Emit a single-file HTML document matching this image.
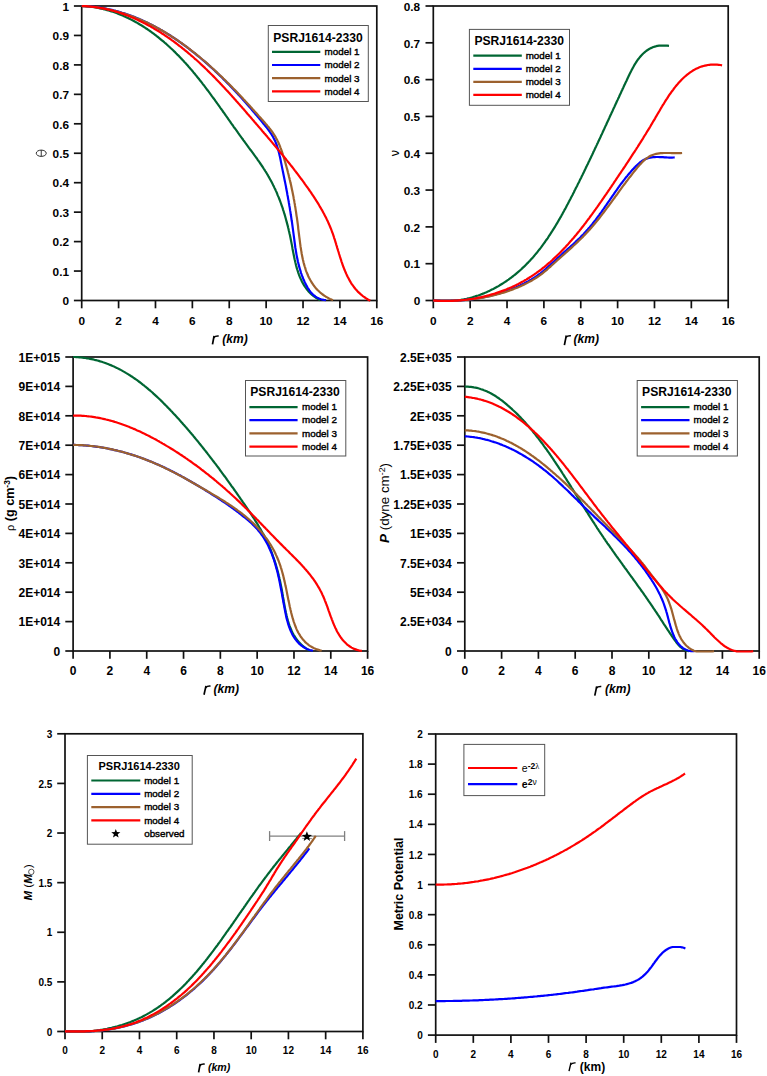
<!DOCTYPE html>
<html><head><meta charset="utf-8"><style>
html,body{margin:0;padding:0;background:#fff;}
body{width:767px;height:1076px;overflow:hidden;font-family:"Liberation Sans", sans-serif;}
svg{display:block;}
</style></head><body>
<svg width="767" height="1076" viewBox="0 0 767 1076" font-family='"Liberation Sans", sans-serif'>
<rect width="767" height="1076" fill="#fff"/>
<rect x="81.70" y="6.00" width="295.10" height="294.50" fill="none" stroke="#111111" stroke-width="1.70"/>
<line x1="81.70" y1="300.50" x2="81.70" y2="308.30" stroke="#111111" stroke-width="1.70"/>
<text x="81.70" y="325.00" font-size="11.80" text-anchor="middle" font-weight="bold" font-style="normal" fill="#000" >0</text>
<line x1="118.59" y1="300.50" x2="118.59" y2="308.30" stroke="#111111" stroke-width="1.70"/>
<text x="118.59" y="325.00" font-size="11.80" text-anchor="middle" font-weight="bold" font-style="normal" fill="#000" >2</text>
<line x1="155.48" y1="300.50" x2="155.48" y2="308.30" stroke="#111111" stroke-width="1.70"/>
<text x="155.48" y="325.00" font-size="11.80" text-anchor="middle" font-weight="bold" font-style="normal" fill="#000" >4</text>
<line x1="192.36" y1="300.50" x2="192.36" y2="308.30" stroke="#111111" stroke-width="1.70"/>
<text x="192.36" y="325.00" font-size="11.80" text-anchor="middle" font-weight="bold" font-style="normal" fill="#000" >6</text>
<line x1="229.25" y1="300.50" x2="229.25" y2="308.30" stroke="#111111" stroke-width="1.70"/>
<text x="229.25" y="325.00" font-size="11.80" text-anchor="middle" font-weight="bold" font-style="normal" fill="#000" >8</text>
<line x1="266.14" y1="300.50" x2="266.14" y2="308.30" stroke="#111111" stroke-width="1.70"/>
<text x="266.14" y="325.00" font-size="11.80" text-anchor="middle" font-weight="bold" font-style="normal" fill="#000" >10</text>
<line x1="303.03" y1="300.50" x2="303.03" y2="308.30" stroke="#111111" stroke-width="1.70"/>
<text x="303.03" y="325.00" font-size="11.80" text-anchor="middle" font-weight="bold" font-style="normal" fill="#000" >12</text>
<line x1="339.91" y1="300.50" x2="339.91" y2="308.30" stroke="#111111" stroke-width="1.70"/>
<text x="339.91" y="325.00" font-size="11.80" text-anchor="middle" font-weight="bold" font-style="normal" fill="#000" >14</text>
<line x1="376.80" y1="300.50" x2="376.80" y2="308.30" stroke="#111111" stroke-width="1.70"/>
<text x="376.80" y="325.00" font-size="11.80" text-anchor="middle" font-weight="bold" font-style="normal" fill="#000" >16</text>
<line x1="73.90" y1="300.50" x2="81.70" y2="300.50" stroke="#111111" stroke-width="1.70"/>
<text x="69.00" y="305.27" font-size="11.80" text-anchor="end" font-weight="bold" font-style="normal" fill="#000" >0</text>
<line x1="73.90" y1="271.05" x2="81.70" y2="271.05" stroke="#111111" stroke-width="1.70"/>
<text x="69.00" y="275.82" font-size="11.80" text-anchor="end" font-weight="bold" font-style="normal" fill="#000" >0.1</text>
<line x1="73.90" y1="241.60" x2="81.70" y2="241.60" stroke="#111111" stroke-width="1.70"/>
<text x="69.00" y="246.37" font-size="11.80" text-anchor="end" font-weight="bold" font-style="normal" fill="#000" >0.2</text>
<line x1="73.90" y1="212.15" x2="81.70" y2="212.15" stroke="#111111" stroke-width="1.70"/>
<text x="69.00" y="216.92" font-size="11.80" text-anchor="end" font-weight="bold" font-style="normal" fill="#000" >0.3</text>
<line x1="73.90" y1="182.70" x2="81.70" y2="182.70" stroke="#111111" stroke-width="1.70"/>
<text x="69.00" y="187.47" font-size="11.80" text-anchor="end" font-weight="bold" font-style="normal" fill="#000" >0.4</text>
<line x1="73.90" y1="153.25" x2="81.70" y2="153.25" stroke="#111111" stroke-width="1.70"/>
<text x="69.00" y="158.02" font-size="11.80" text-anchor="end" font-weight="bold" font-style="normal" fill="#000" >0.5</text>
<line x1="73.90" y1="123.80" x2="81.70" y2="123.80" stroke="#111111" stroke-width="1.70"/>
<text x="69.00" y="128.57" font-size="11.80" text-anchor="end" font-weight="bold" font-style="normal" fill="#000" >0.6</text>
<line x1="73.90" y1="94.35" x2="81.70" y2="94.35" stroke="#111111" stroke-width="1.70"/>
<text x="69.00" y="99.12" font-size="11.80" text-anchor="end" font-weight="bold" font-style="normal" fill="#000" >0.7</text>
<line x1="73.90" y1="64.90" x2="81.70" y2="64.90" stroke="#111111" stroke-width="1.70"/>
<text x="69.00" y="69.67" font-size="11.80" text-anchor="end" font-weight="bold" font-style="normal" fill="#000" >0.8</text>
<line x1="73.90" y1="35.45" x2="81.70" y2="35.45" stroke="#111111" stroke-width="1.70"/>
<text x="69.00" y="40.22" font-size="11.80" text-anchor="end" font-weight="bold" font-style="normal" fill="#000" >0.9</text>
<line x1="73.90" y1="6.00" x2="81.70" y2="6.00" stroke="#111111" stroke-width="1.70"/>
<text x="69.00" y="10.77" font-size="11.80" text-anchor="end" font-weight="bold" font-style="normal" fill="#000" >1</text>
<rect x="268.30" y="25.50" width="100.00" height="76.00" fill="#fff" stroke="#555" stroke-width="1"/>
<text x="318.00" y="41.60" font-size="12.10" text-anchor="middle" font-weight="bold" font-style="normal" fill="#000" >PSRJ1614-2330</text>
<line x1="272.00" y1="51.80" x2="320.30" y2="51.80" stroke="#006633" stroke-width="2.2"/>
<text x="324.60" y="55.18" font-size="9.82" text-anchor="start" font-weight="normal" font-style="normal" fill="#000" stroke="#000" stroke-width="0.4">model 1</text>
<line x1="272.00" y1="65.00" x2="320.30" y2="65.00" stroke="#0000ff" stroke-width="2.2"/>
<text x="324.60" y="68.38" font-size="9.82" text-anchor="start" font-weight="normal" font-style="normal" fill="#000" stroke="#000" stroke-width="0.4">model 2</text>
<line x1="272.00" y1="78.20" x2="320.30" y2="78.20" stroke="#9c612e" stroke-width="2.2"/>
<text x="324.60" y="81.58" font-size="9.82" text-anchor="start" font-weight="normal" font-style="normal" fill="#000" stroke="#000" stroke-width="0.4">model 3</text>
<line x1="272.00" y1="91.30" x2="320.30" y2="91.30" stroke="#ff0000" stroke-width="2.2"/>
<text x="324.60" y="94.68" font-size="9.82" text-anchor="start" font-weight="normal" font-style="normal" fill="#000" stroke="#000" stroke-width="0.4">model 4</text>
<path d="M81.7,6.0 L83.2,6.1 L84.8,6.2 L86.3,6.3 L87.8,6.4 L89.4,6.6 L90.9,6.8 L92.4,7.0 L93.9,7.2 L95.4,7.4 L96.9,7.7 L98.4,8.0 L99.8,8.3 L101.3,8.6 L102.8,9.0 L104.2,9.3 L105.7,9.7 L107.1,10.1 L108.6,10.5 L110.0,10.9 L111.4,11.4 L112.9,11.8 L114.3,12.3 L115.7,12.8 L117.1,13.3 L118.5,13.9 L119.9,14.4 L121.2,15.0 L122.6,15.6 L124.0,16.2 L125.3,16.8 L126.7,17.4 L128.0,18.0 L129.4,18.7 L130.7,19.4 L132.0,20.1 L133.4,20.8 L134.7,21.5 L136.0,22.2 L137.3,22.9 L138.6,23.7 L139.9,24.5 L141.2,25.2 L142.4,26.0 L143.7,26.8 L145.0,27.7 L146.2,28.5 L147.5,29.3 L148.7,30.2 L149.9,31.0 L151.2,31.9 L152.4,32.8 L153.6,33.7 L154.8,34.6 L156.0,35.5 L157.2,36.5 L158.4,37.4 L159.5,38.3 L160.7,39.3 L161.9,40.3 L163.0,41.2 L164.2,42.2 L165.3,43.2 L166.5,44.2 L167.6,45.2 L168.7,46.2 L169.8,47.2 L170.9,48.3 L172.0,49.3 L173.1,50.3 L174.2,51.4 L175.3,52.4 L176.3,53.5 L177.4,54.6 L178.5,55.6 L179.5,56.7 L180.5,57.8 L181.6,58.9 L182.6,60.0 L183.6,61.1 L184.6,62.2 L185.7,63.3 L186.7,64.4 L187.7,65.5 L188.6,66.7 L189.6,67.8 L190.6,68.9 L191.6,70.1 L192.6,71.2 L193.5,72.4 L194.5,73.5 L195.4,74.7 L196.4,75.8 L197.3,77.0 L198.3,78.2 L199.2,79.3 L200.1,80.5 L201.1,81.7 L202.0,82.9 L202.9,84.1 L203.8,85.2 L204.7,86.4 L205.6,87.6 L206.5,88.8 L207.4,90.0 L208.3,91.2 L209.2,92.4 L210.1,93.6 L211.0,94.8 L211.9,96.1 L212.8,97.3 L213.7,98.5 L214.6,99.7 L215.4,100.9 L216.3,102.1 L217.2,103.4 L218.1,104.6 L219.0,105.8 L219.8,107.0 L220.7,108.3 L221.6,109.5 L222.4,110.7 L223.3,112.0 L224.2,113.2 L225.0,114.4 L225.9,115.7 L226.8,116.9 L227.7,118.1 L228.5,119.4 L229.4,120.6 L230.3,121.8 L231.1,123.1 L232.0,124.3 L232.9,125.5 L233.7,126.8 L234.6,128.0 L235.5,129.2 L236.4,130.4 L237.3,131.7 L238.1,132.9 L239.0,134.1 L239.9,135.4 L240.8,136.6 L241.7,137.8 L242.6,139.0 L243.5,140.3 L244.4,141.5 L245.2,142.7 L246.1,143.9 L247.0,145.1 L247.9,146.3 L248.8,147.6 L249.7,148.8 L250.6,150.0 L251.5,151.2 L252.4,152.4 L253.3,153.6 L254.2,154.9 L255.1,156.1 L256.0,157.3 L256.9,158.5 L257.7,159.8 L258.6,161.0 L259.4,162.2 L260.3,163.5 L261.1,164.7 L262.0,166.0 L262.8,167.2 L263.6,168.5 L264.4,169.7 L265.2,171.0 L266.0,172.2 L266.8,173.5 L267.6,174.8 L268.3,176.1 L269.1,177.4 L269.8,178.7 L270.5,180.0 L271.2,181.3 L271.9,182.6 L272.6,183.9 L273.2,185.2 L273.9,186.6 L274.5,187.9 L275.2,189.2 L275.8,190.6 L276.4,191.9 L277.0,193.3 L277.5,194.7 L278.1,196.1 L278.7,197.4 L279.2,198.8 L279.8,200.2 L280.3,201.6 L280.8,203.0 L281.3,204.4 L281.8,205.8 L282.3,207.2 L282.8,208.6 L283.2,210.1 L283.7,211.5 L284.1,212.9 L284.6,214.4 L285.0,215.8 L285.4,217.3 L285.8,218.7 L286.2,220.2 L286.6,221.6 L287.0,223.1 L287.4,224.6 L287.8,226.1 L288.1,227.5 L288.5,229.0 L288.8,230.5 L289.2,232.0 L289.5,233.5 L289.9,235.0 L290.2,236.5 L290.5,238.0 L290.8,239.5 L291.1,241.1 L291.4,242.6 L291.7,244.1 L292.0,245.6 L292.3,247.2 L292.5,248.7 L292.8,250.2 L293.1,251.7 L293.4,253.2 L293.7,254.8 L294.0,256.3 L294.3,257.8 L294.6,259.3 L295.0,260.8 L295.3,262.2 L295.7,263.7 L296.0,265.2 L296.4,266.6 L296.8,268.1 L297.2,269.5 L297.7,270.9 L298.1,272.3 L298.6,273.7 L299.1,275.1 L299.6,276.4 L300.2,277.8 L300.8,279.1 L301.4,280.4 L302.0,281.7 L302.7,282.9 L303.4,284.2 L304.1,285.4 L304.9,286.6 L305.7,287.7 L306.5,288.9 L307.4,290.0 L308.3,291.1 L309.3,292.1 L310.3,293.1 L311.3,294.1 L312.4,295.1 L313.6,296.0 L314.8,296.9 L316.0,297.8 L317.3,298.6 L318.6,299.4 L320.0,300.2" fill="none" stroke="#006633" stroke-width="2.20" stroke-linecap="butt" stroke-linejoin="round"/>
<path d="M81.7,6.0 L83.2,6.0 L84.8,6.1 L86.3,6.2 L87.9,6.3 L89.4,6.4 L90.9,6.5 L92.5,6.7 L94.0,6.8 L95.5,7.0 L97.0,7.2 L98.5,7.4 L100.0,7.6 L101.5,7.9 L103.0,8.1 L104.5,8.4 L106.0,8.7 L107.4,9.0 L108.9,9.3 L110.4,9.6 L111.9,9.9 L113.3,10.3 L114.8,10.7 L116.2,11.0 L117.7,11.4 L119.1,11.8 L120.6,12.2 L122.0,12.7 L123.4,13.1 L124.9,13.6 L126.3,14.1 L127.7,14.5 L129.1,15.0 L130.5,15.5 L131.9,16.1 L133.3,16.6 L134.7,17.1 L136.1,17.7 L137.5,18.3 L138.9,18.8 L140.2,19.4 L141.6,20.0 L143.0,20.7 L144.3,21.3 L145.7,21.9 L147.1,22.6 L148.4,23.2 L149.8,23.9 L151.1,24.6 L152.4,25.2 L153.8,25.9 L155.1,26.6 L156.4,27.4 L157.7,28.1 L159.0,28.8 L160.4,29.6 L161.7,30.3 L163.0,31.1 L164.3,31.9 L165.5,32.6 L166.8,33.4 L168.1,34.2 L169.4,35.0 L170.7,35.8 L171.9,36.7 L173.2,37.5 L174.5,38.3 L175.7,39.2 L177.0,40.0 L178.2,40.9 L179.5,41.8 L180.7,42.6 L181.9,43.5 L183.1,44.4 L184.4,45.3 L185.6,46.2 L186.8,47.1 L188.0,48.0 L189.2,49.0 L190.4,49.9 L191.6,50.8 L192.8,51.8 L194.0,52.7 L195.2,53.6 L196.3,54.6 L197.5,55.6 L198.7,56.5 L199.9,57.5 L201.0,58.5 L202.2,59.5 L203.3,60.4 L204.5,61.4 L205.6,62.4 L206.7,63.4 L207.9,64.4 L209.0,65.4 L210.1,66.4 L211.2,67.5 L212.4,68.5 L213.5,69.5 L214.6,70.5 L215.7,71.6 L216.8,72.6 L217.9,73.6 L219.0,74.7 L220.0,75.7 L221.1,76.8 L222.2,77.8 L223.3,78.9 L224.3,80.0 L225.4,81.0 L226.5,82.1 L227.5,83.2 L228.6,84.3 L229.6,85.3 L230.7,86.4 L231.7,87.5 L232.8,88.6 L233.8,89.7 L234.8,90.8 L235.9,91.9 L236.9,93.0 L237.9,94.1 L239.0,95.2 L240.0,96.3 L241.0,97.4 L242.0,98.6 L243.0,99.7 L244.0,100.8 L245.0,101.9 L246.0,103.1 L247.0,104.2 L248.0,105.3 L249.0,106.5 L250.0,107.6 L251.0,108.7 L251.9,109.9 L252.9,111.0 L253.9,112.2 L254.9,113.3 L255.8,114.5 L256.8,115.6 L257.8,116.8 L258.7,117.9 L259.7,119.1 L260.7,120.2 L261.6,121.4 L262.6,122.6 L263.5,123.7 L264.5,124.9 L265.4,126.1 L266.4,127.2 L267.3,128.4 L268.2,129.6 L269.1,130.8 L269.9,132.0 L270.8,133.3 L271.6,134.5 L272.4,135.8 L273.1,137.1 L273.8,138.4 L274.5,139.7 L275.1,141.0 L275.7,142.4 L276.2,143.8 L276.8,145.2 L277.2,146.7 L277.7,148.1 L278.1,149.6 L278.5,151.0 L278.9,152.5 L279.3,154.0 L279.6,155.5 L280.0,157.0 L280.3,158.5 L280.6,160.0 L280.9,161.6 L281.2,163.1 L281.5,164.6 L281.8,166.1 L282.1,167.6 L282.4,169.1 L282.7,170.6 L283.0,172.0 L283.3,173.5 L283.6,175.0 L283.9,176.5 L284.2,178.0 L284.5,179.5 L284.8,180.9 L285.1,182.4 L285.4,183.9 L285.7,185.4 L286.0,186.8 L286.2,188.3 L286.5,189.8 L286.8,191.2 L287.1,192.7 L287.3,194.2 L287.6,195.7 L287.9,197.1 L288.1,198.6 L288.4,200.1 L288.7,201.5 L288.9,203.0 L289.2,204.5 L289.4,206.0 L289.7,207.4 L289.9,208.9 L290.1,210.4 L290.4,211.9 L290.6,213.4 L290.8,214.8 L291.1,216.3 L291.3,217.8 L291.5,219.3 L291.7,220.8 L292.0,222.3 L292.2,223.8 L292.4,225.3 L292.6,226.8 L292.8,228.3 L293.0,229.8 L293.2,231.3 L293.4,232.9 L293.6,234.4 L293.8,235.9 L294.0,237.4 L294.2,238.9 L294.4,240.5 L294.6,242.0 L294.8,243.5 L295.0,245.0 L295.2,246.5 L295.4,248.0 L295.7,249.6 L295.9,251.1 L296.2,252.6 L296.4,254.1 L296.7,255.6 L297.0,257.1 L297.3,258.5 L297.6,260.0 L297.9,261.5 L298.3,263.0 L298.6,264.4 L299.0,265.9 L299.4,267.4 L299.8,268.8 L300.2,270.2 L300.7,271.7 L301.1,273.1 L301.6,274.5 L302.1,275.9 L302.7,277.3 L303.2,278.7 L303.8,280.0 L304.4,281.4 L305.0,282.7 L305.7,284.1 L306.3,285.4 L307.1,286.7 L307.8,288.0 L308.6,289.2 L309.4,290.4 L310.3,291.6 L311.2,292.7 L312.2,293.8 L313.2,294.8 L314.4,295.7 L315.5,296.6 L316.8,297.4 L318.1,298.1 L319.5,298.7 L321.0,299.3 L322.6,299.7 L324.2,300.0 L326.0,300.2" fill="none" stroke="#0000ff" stroke-width="2.20" stroke-linecap="butt" stroke-linejoin="round"/>
<path d="M81.7,6.0 L83.3,6.1 L84.8,6.2 L86.4,6.3 L87.9,6.4 L89.5,6.5 L91.0,6.7 L92.5,6.8 L94.1,7.0 L95.6,7.2 L97.1,7.4 L98.6,7.6 L100.1,7.9 L101.6,8.1 L103.1,8.4 L104.6,8.6 L106.1,8.9 L107.6,9.2 L109.1,9.5 L110.5,9.9 L112.0,10.2 L113.5,10.6 L114.9,10.9 L116.4,11.3 L117.8,11.7 L119.2,12.1 L120.7,12.5 L122.1,13.0 L123.5,13.4 L125.0,13.8 L126.4,14.3 L127.8,14.8 L129.2,15.3 L130.6,15.8 L132.0,16.3 L133.4,16.8 L134.8,17.3 L136.1,17.9 L137.5,18.5 L138.9,19.0 L140.3,19.6 L141.6,20.2 L143.0,20.8 L144.3,21.4 L145.7,22.0 L147.0,22.6 L148.4,23.3 L149.7,23.9 L151.0,24.6 L152.4,25.3 L153.7,26.0 L155.0,26.6 L156.3,27.3 L157.6,28.1 L158.9,28.8 L160.2,29.5 L161.5,30.2 L162.8,31.0 L164.1,31.7 L165.4,32.5 L166.7,33.3 L167.9,34.1 L169.2,34.9 L170.5,35.6 L171.7,36.5 L173.0,37.3 L174.2,38.1 L175.5,38.9 L176.7,39.8 L178.0,40.6 L179.2,41.5 L180.4,42.3 L181.7,43.2 L182.9,44.1 L184.1,45.0 L185.3,45.8 L186.5,46.7 L187.7,47.6 L189.0,48.6 L190.2,49.5 L191.3,50.4 L192.5,51.3 L193.7,52.3 L194.9,53.2 L196.1,54.2 L197.3,55.1 L198.4,56.1 L199.6,57.0 L200.8,58.0 L201.9,59.0 L203.1,60.0 L204.3,61.0 L205.4,61.9 L206.6,62.9 L207.7,63.9 L208.8,65.0 L210.0,66.0 L211.1,67.0 L212.2,68.0 L213.4,69.0 L214.5,70.1 L215.6,71.1 L216.7,72.1 L217.8,73.2 L218.9,74.2 L220.0,75.3 L221.1,76.3 L222.2,77.4 L223.3,78.5 L224.4,79.5 L225.5,80.6 L226.6,81.7 L227.7,82.7 L228.8,83.8 L229.8,84.9 L230.9,86.0 L232.0,87.1 L233.0,88.2 L234.1,89.2 L235.2,90.3 L236.2,91.4 L237.3,92.5 L238.3,93.6 L239.4,94.7 L240.4,95.8 L241.5,96.9 L242.5,98.0 L243.5,99.2 L244.6,100.3 L245.6,101.4 L246.6,102.5 L247.6,103.6 L248.7,104.7 L249.7,105.8 L250.7,106.9 L251.7,108.0 L252.7,109.2 L253.7,110.3 L254.7,111.4 L255.7,112.5 L256.7,113.6 L257.7,114.7 L258.7,115.9 L259.7,117.0 L260.7,118.1 L261.7,119.2 L262.7,120.3 L263.7,121.4 L264.6,122.5 L265.6,123.7 L266.6,124.8 L267.5,125.9 L268.5,127.0 L269.4,128.2 L270.3,129.3 L271.2,130.5 L272.1,131.7 L272.9,132.9 L273.7,134.1 L274.5,135.3 L275.3,136.6 L276.0,137.9 L276.7,139.2 L277.4,140.6 L278.1,141.9 L278.7,143.3 L279.3,144.7 L279.9,146.1 L280.4,147.6 L281.0,149.0 L281.5,150.4 L282.0,151.9 L282.5,153.3 L282.9,154.8 L283.4,156.3 L283.9,157.8 L284.3,159.2 L284.7,160.7 L285.2,162.1 L285.6,163.6 L286.0,165.1 L286.4,166.5 L286.8,168.0 L287.2,169.4 L287.6,170.9 L287.9,172.3 L288.3,173.8 L288.7,175.2 L289.0,176.7 L289.4,178.1 L289.7,179.5 L290.1,181.0 L290.4,182.4 L290.8,183.9 L291.1,185.3 L291.4,186.8 L291.7,188.2 L292.0,189.7 L292.3,191.1 L292.6,192.5 L292.9,194.0 L293.2,195.4 L293.5,196.9 L293.7,198.4 L294.0,199.8 L294.3,201.3 L294.5,202.7 L294.8,204.2 L295.0,205.7 L295.3,207.2 L295.5,208.6 L295.7,210.1 L296.0,211.6 L296.2,213.1 L296.4,214.6 L296.6,216.1 L296.9,217.6 L297.1,219.1 L297.3,220.6 L297.5,222.1 L297.7,223.7 L297.9,225.2 L298.1,226.7 L298.2,228.3 L298.4,229.8 L298.6,231.4 L298.8,232.9 L299.0,234.5 L299.2,236.1 L299.4,237.6 L299.6,239.2 L299.8,240.7 L300.0,242.3 L300.2,243.9 L300.4,245.4 L300.6,247.0 L300.9,248.5 L301.1,250.1 L301.4,251.6 L301.6,253.2 L301.9,254.7 L302.2,256.2 L302.5,257.7 L302.8,259.2 L303.2,260.7 L303.5,262.2 L303.9,263.6 L304.3,265.1 L304.7,266.5 L305.2,267.9 L305.6,269.4 L306.1,270.8 L306.6,272.1 L307.2,273.5 L307.7,274.8 L308.3,276.2 L308.9,277.5 L309.6,278.7 L310.3,280.0 L311.0,281.2 L311.7,282.5 L312.5,283.6 L313.3,284.8 L314.1,286.0 L315.0,287.1 L315.9,288.2 L316.8,289.2 L317.8,290.3 L318.9,291.3 L319.9,292.2 L321.0,293.2 L322.2,294.1 L323.4,295.0 L324.6,295.8 L325.9,296.7 L327.2,297.4 L328.6,298.2 L330.0,298.9 L331.5,299.6 L333.0,300.2" fill="none" stroke="#9c612e" stroke-width="2.20" stroke-linecap="butt" stroke-linejoin="round"/>
<path d="M81.7,6.0 L83.2,6.1 L84.8,6.1 L86.3,6.2 L87.8,6.3 L89.3,6.5 L90.8,6.6 L92.3,6.8 L93.9,6.9 L95.4,7.1 L96.9,7.4 L98.3,7.6 L99.8,7.8 L101.3,8.1 L102.8,8.4 L104.3,8.7 L105.7,9.0 L107.2,9.3 L108.7,9.7 L110.1,10.0 L111.6,10.4 L113.0,10.8 L114.5,11.2 L115.9,11.6 L117.3,12.0 L118.8,12.5 L120.2,13.0 L121.6,13.4 L123.0,13.9 L124.4,14.4 L125.9,15.0 L127.3,15.5 L128.7,16.0 L130.0,16.6 L131.4,17.2 L132.8,17.7 L134.2,18.3 L135.6,19.0 L136.9,19.6 L138.3,20.2 L139.7,20.9 L141.0,21.5 L142.4,22.2 L143.7,22.9 L145.1,23.5 L146.4,24.2 L147.7,25.0 L149.1,25.7 L150.4,26.4 L151.7,27.2 L153.0,27.9 L154.3,28.7 L155.6,29.5 L156.9,30.2 L158.2,31.0 L159.5,31.8 L160.8,32.6 L162.0,33.5 L163.3,34.3 L164.6,35.1 L165.8,36.0 L167.1,36.8 L168.3,37.7 L169.6,38.5 L170.8,39.4 L172.0,40.3 L173.3,41.2 L174.5,42.1 L175.7,43.0 L176.9,43.9 L178.1,44.8 L179.3,45.8 L180.5,46.7 L181.7,47.6 L182.9,48.6 L184.1,49.5 L185.2,50.5 L186.4,51.4 L187.6,52.4 L188.7,53.4 L189.9,54.3 L191.0,55.3 L192.2,56.3 L193.3,57.3 L194.4,58.3 L195.6,59.3 L196.7,60.3 L197.8,61.3 L198.9,62.3 L200.0,63.3 L201.1,64.4 L202.2,65.4 L203.3,66.4 L204.4,67.4 L205.5,68.5 L206.6,69.5 L207.6,70.6 L208.7,71.6 L209.8,72.7 L210.8,73.7 L211.9,74.8 L213.0,75.9 L214.0,76.9 L215.1,78.0 L216.1,79.1 L217.2,80.2 L218.2,81.2 L219.2,82.3 L220.3,83.4 L221.3,84.5 L222.3,85.6 L223.4,86.7 L224.4,87.8 L225.4,88.9 L226.4,90.0 L227.5,91.1 L228.5,92.2 L229.5,93.3 L230.5,94.4 L231.5,95.6 L232.5,96.7 L233.5,97.8 L234.5,98.9 L235.5,100.0 L236.5,101.2 L237.5,102.3 L238.5,103.4 L239.5,104.6 L240.5,105.7 L241.5,106.8 L242.5,108.0 L243.5,109.1 L244.5,110.2 L245.5,111.4 L246.4,112.5 L247.4,113.7 L248.4,114.8 L249.4,115.9 L250.4,117.1 L251.4,118.2 L252.4,119.4 L253.4,120.5 L254.3,121.7 L255.3,122.8 L256.3,124.0 L257.3,125.1 L258.3,126.3 L259.3,127.4 L260.3,128.6 L261.3,129.7 L262.2,130.9 L263.2,132.0 L264.2,133.2 L265.2,134.3 L266.2,135.5 L267.2,136.6 L268.1,137.8 L269.1,138.9 L270.1,140.1 L271.1,141.2 L272.1,142.4 L273.0,143.6 L274.0,144.7 L275.0,145.9 L276.0,147.0 L276.9,148.2 L277.9,149.4 L278.9,150.5 L279.8,151.7 L280.8,152.9 L281.8,154.0 L282.7,155.2 L283.7,156.4 L284.6,157.6 L285.6,158.7 L286.5,159.9 L287.5,161.1 L288.4,162.3 L289.4,163.5 L290.3,164.6 L291.2,165.8 L292.2,167.0 L293.1,168.2 L294.0,169.4 L294.9,170.6 L295.9,171.8 L296.8,173.0 L297.7,174.2 L298.6,175.4 L299.5,176.6 L300.4,177.8 L301.3,179.0 L302.2,180.2 L303.1,181.4 L304.0,182.6 L304.8,183.9 L305.7,185.1 L306.6,186.3 L307.5,187.5 L308.3,188.7 L309.2,190.0 L310.0,191.2 L310.9,192.4 L311.7,193.7 L312.5,194.9 L313.4,196.2 L314.2,197.4 L315.0,198.7 L315.8,199.9 L316.6,201.2 L317.4,202.4 L318.2,203.7 L319.0,205.0 L319.7,206.3 L320.5,207.6 L321.2,208.8 L322.0,210.1 L322.7,211.4 L323.4,212.8 L324.1,214.1 L324.8,215.4 L325.5,216.7 L326.2,218.1 L326.8,219.4 L327.5,220.8 L328.1,222.1 L328.7,223.5 L329.3,224.9 L329.9,226.3 L330.5,227.7 L331.1,229.1 L331.6,230.5 L332.1,232.0 L332.7,233.4 L333.2,234.8 L333.7,236.3 L334.1,237.8 L334.6,239.2 L335.1,240.7 L335.5,242.2 L336.0,243.6 L336.4,245.1 L336.9,246.6 L337.3,248.1 L337.8,249.6 L338.2,251.0 L338.7,252.5 L339.1,254.0 L339.6,255.5 L340.0,256.9 L340.5,258.4 L341.0,259.8 L341.4,261.3 L341.9,262.7 L342.4,264.1 L342.9,265.6 L343.4,267.0 L344.0,268.4 L344.5,269.8 L345.1,271.1 L345.7,272.5 L346.3,273.9 L346.9,275.2 L347.5,276.5 L348.2,277.8 L348.9,279.1 L349.6,280.4 L350.3,281.6 L351.0,282.8 L351.8,284.1 L352.6,285.2 L353.5,286.4 L354.3,287.5 L355.2,288.7 L356.2,289.8 L357.1,290.8 L358.1,291.9 L359.2,292.9 L360.3,293.9 L361.4,294.8 L362.5,295.8 L363.7,296.7 L364.9,297.5 L366.2,298.4 L367.5,299.2 L368.9,300.0 L370.3,300.7" fill="none" stroke="#ff0000" stroke-width="2.20" stroke-linecap="butt" stroke-linejoin="round"/>
<rect x="433.30" y="6.00" width="294.90" height="294.50" fill="none" stroke="#111111" stroke-width="1.70"/>
<line x1="433.30" y1="300.50" x2="433.30" y2="308.30" stroke="#111111" stroke-width="1.70"/>
<text x="433.30" y="325.00" font-size="11.80" text-anchor="middle" font-weight="bold" font-style="normal" fill="#000" >0</text>
<line x1="470.16" y1="300.50" x2="470.16" y2="308.30" stroke="#111111" stroke-width="1.70"/>
<text x="470.16" y="325.00" font-size="11.80" text-anchor="middle" font-weight="bold" font-style="normal" fill="#000" >2</text>
<line x1="507.03" y1="300.50" x2="507.03" y2="308.30" stroke="#111111" stroke-width="1.70"/>
<text x="507.03" y="325.00" font-size="11.80" text-anchor="middle" font-weight="bold" font-style="normal" fill="#000" >4</text>
<line x1="543.89" y1="300.50" x2="543.89" y2="308.30" stroke="#111111" stroke-width="1.70"/>
<text x="543.89" y="325.00" font-size="11.80" text-anchor="middle" font-weight="bold" font-style="normal" fill="#000" >6</text>
<line x1="580.75" y1="300.50" x2="580.75" y2="308.30" stroke="#111111" stroke-width="1.70"/>
<text x="580.75" y="325.00" font-size="11.80" text-anchor="middle" font-weight="bold" font-style="normal" fill="#000" >8</text>
<line x1="617.61" y1="300.50" x2="617.61" y2="308.30" stroke="#111111" stroke-width="1.70"/>
<text x="617.61" y="325.00" font-size="11.80" text-anchor="middle" font-weight="bold" font-style="normal" fill="#000" >10</text>
<line x1="654.48" y1="300.50" x2="654.48" y2="308.30" stroke="#111111" stroke-width="1.70"/>
<text x="654.48" y="325.00" font-size="11.80" text-anchor="middle" font-weight="bold" font-style="normal" fill="#000" >12</text>
<line x1="691.34" y1="300.50" x2="691.34" y2="308.30" stroke="#111111" stroke-width="1.70"/>
<text x="691.34" y="325.00" font-size="11.80" text-anchor="middle" font-weight="bold" font-style="normal" fill="#000" >14</text>
<line x1="728.20" y1="300.50" x2="728.20" y2="308.30" stroke="#111111" stroke-width="1.70"/>
<text x="728.20" y="325.00" font-size="11.80" text-anchor="middle" font-weight="bold" font-style="normal" fill="#000" >16</text>
<line x1="425.50" y1="300.50" x2="433.30" y2="300.50" stroke="#111111" stroke-width="1.70"/>
<text x="420.20" y="305.27" font-size="11.80" text-anchor="end" font-weight="bold" font-style="normal" fill="#000" >0</text>
<line x1="425.50" y1="263.69" x2="433.30" y2="263.69" stroke="#111111" stroke-width="1.70"/>
<text x="420.20" y="268.46" font-size="11.80" text-anchor="end" font-weight="bold" font-style="normal" fill="#000" >0.1</text>
<line x1="425.50" y1="226.88" x2="433.30" y2="226.88" stroke="#111111" stroke-width="1.70"/>
<text x="420.20" y="231.65" font-size="11.80" text-anchor="end" font-weight="bold" font-style="normal" fill="#000" >0.2</text>
<line x1="425.50" y1="190.06" x2="433.30" y2="190.06" stroke="#111111" stroke-width="1.70"/>
<text x="420.20" y="194.83" font-size="11.80" text-anchor="end" font-weight="bold" font-style="normal" fill="#000" >0.3</text>
<line x1="425.50" y1="153.25" x2="433.30" y2="153.25" stroke="#111111" stroke-width="1.70"/>
<text x="420.20" y="158.02" font-size="11.80" text-anchor="end" font-weight="bold" font-style="normal" fill="#000" >0.4</text>
<line x1="425.50" y1="116.44" x2="433.30" y2="116.44" stroke="#111111" stroke-width="1.70"/>
<text x="420.20" y="121.21" font-size="11.80" text-anchor="end" font-weight="bold" font-style="normal" fill="#000" >0.5</text>
<line x1="425.50" y1="79.62" x2="433.30" y2="79.62" stroke="#111111" stroke-width="1.70"/>
<text x="420.20" y="84.40" font-size="11.80" text-anchor="end" font-weight="bold" font-style="normal" fill="#000" >0.6</text>
<line x1="425.50" y1="42.81" x2="433.30" y2="42.81" stroke="#111111" stroke-width="1.70"/>
<text x="420.20" y="47.58" font-size="11.80" text-anchor="end" font-weight="bold" font-style="normal" fill="#000" >0.7</text>
<line x1="425.50" y1="6.00" x2="433.30" y2="6.00" stroke="#111111" stroke-width="1.70"/>
<text x="420.20" y="10.77" font-size="11.80" text-anchor="end" font-weight="bold" font-style="normal" fill="#000" >0.8</text>
<rect x="469.40" y="29.40" width="100.10" height="75.90" fill="#fff" stroke="#555" stroke-width="1"/>
<text x="519.20" y="45.00" font-size="12.10" text-anchor="middle" font-weight="bold" font-style="normal" fill="#000" >PSRJ1614-2330</text>
<line x1="473.30" y1="55.70" x2="521.80" y2="55.70" stroke="#006633" stroke-width="2.2"/>
<text x="525.70" y="59.08" font-size="9.82" text-anchor="start" font-weight="normal" font-style="normal" fill="#000" stroke="#000" stroke-width="0.4">model 1</text>
<line x1="473.30" y1="68.80" x2="521.80" y2="68.80" stroke="#0000ff" stroke-width="2.2"/>
<text x="525.70" y="72.18" font-size="9.82" text-anchor="start" font-weight="normal" font-style="normal" fill="#000" stroke="#000" stroke-width="0.4">model 2</text>
<line x1="473.30" y1="81.80" x2="521.80" y2="81.80" stroke="#9c612e" stroke-width="2.2"/>
<text x="525.70" y="85.18" font-size="9.82" text-anchor="start" font-weight="normal" font-style="normal" fill="#000" stroke="#000" stroke-width="0.4">model 3</text>
<line x1="473.30" y1="94.80" x2="521.80" y2="94.80" stroke="#ff0000" stroke-width="2.2"/>
<text x="525.70" y="98.18" font-size="9.82" text-anchor="start" font-weight="normal" font-style="normal" fill="#000" stroke="#000" stroke-width="0.4">model 4</text>
<path d="M433.3,300.5 L434.9,300.7 L436.4,300.8 L438.0,300.8 L439.5,300.8 L441.1,300.8 L442.6,300.8 L444.2,300.8 L445.7,300.8 L447.2,300.8 L448.7,300.8 L450.3,300.8 L451.8,300.8 L453.3,300.8 L454.8,300.7 L456.3,300.5 L457.8,300.3 L459.3,300.1 L460.8,299.9 L462.3,299.6 L463.7,299.4 L465.2,299.1 L466.7,298.8 L468.1,298.4 L469.6,298.1 L471.0,297.7 L472.5,297.3 L473.9,296.8 L475.3,296.4 L476.7,295.9 L478.2,295.5 L479.6,295.0 L481.0,294.4 L482.4,293.9 L483.7,293.4 L485.1,292.8 L486.5,292.2 L487.8,291.6 L489.2,290.9 L490.5,290.3 L491.9,289.6 L493.2,289.0 L494.5,288.3 L495.9,287.5 L497.2,286.8 L498.5,286.1 L499.7,285.3 L501.0,284.5 L502.3,283.7 L503.6,282.9 L504.8,282.1 L506.1,281.3 L507.3,280.4 L508.5,279.6 L509.7,278.7 L510.9,277.8 L512.1,276.9 L513.3,276.0 L514.5,275.0 L515.7,274.1 L516.8,273.1 L518.0,272.1 L519.1,271.2 L520.2,270.2 L521.3,269.2 L522.4,268.1 L523.5,267.1 L524.6,266.1 L525.7,265.0 L526.7,263.9 L527.8,262.9 L528.8,261.8 L529.9,260.7 L530.9,259.6 L531.9,258.5 L532.9,257.4 L533.9,256.2 L534.8,255.1 L535.8,253.9 L536.8,252.8 L537.7,251.6 L538.6,250.4 L539.6,249.2 L540.5,248.1 L541.4,246.9 L542.3,245.6 L543.2,244.4 L544.1,243.2 L545.0,242.0 L545.8,240.7 L546.7,239.5 L547.6,238.3 L548.4,237.0 L549.2,235.7 L550.1,234.5 L550.9,233.2 L551.7,231.9 L552.5,230.7 L553.3,229.4 L554.1,228.1 L554.9,226.8 L555.7,225.5 L556.5,224.2 L557.3,222.9 L558.0,221.6 L558.8,220.2 L559.6,218.9 L560.3,217.6 L561.1,216.3 L561.8,214.9 L562.6,213.6 L563.3,212.3 L564.0,211.0 L564.7,209.6 L565.5,208.3 L566.2,206.9 L566.9,205.6 L567.6,204.3 L568.3,202.9 L569.0,201.6 L569.7,200.2 L570.4,198.9 L571.1,197.5 L571.8,196.2 L572.5,194.9 L573.2,193.5 L573.9,192.2 L574.5,190.8 L575.2,189.5 L575.9,188.1 L576.6,186.8 L577.3,185.4 L577.9,184.1 L578.6,182.8 L579.3,181.4 L579.9,180.1 L580.6,178.7 L581.3,177.4 L581.9,176.0 L582.6,174.7 L583.2,173.4 L583.9,172.0 L584.5,170.7 L585.2,169.3 L585.8,168.0 L586.5,166.6 L587.1,165.3 L587.8,164.0 L588.4,162.6 L589.1,161.3 L589.7,159.9 L590.4,158.6 L591.0,157.2 L591.6,155.9 L592.3,154.5 L592.9,153.2 L593.5,151.8 L594.2,150.5 L594.8,149.1 L595.4,147.8 L596.1,146.4 L596.7,145.1 L597.3,143.7 L598.0,142.4 L598.6,141.0 L599.2,139.7 L599.9,138.3 L600.5,137.0 L601.1,135.6 L601.8,134.2 L602.4,132.9 L603.0,131.5 L603.6,130.2 L604.3,128.8 L604.9,127.4 L605.5,126.1 L606.2,124.7 L606.8,123.3 L607.4,122.0 L608.1,120.6 L608.7,119.2 L609.3,117.9 L609.9,116.5 L610.6,115.1 L611.2,113.8 L611.8,112.4 L612.5,111.0 L613.1,109.6 L613.7,108.2 L614.4,106.9 L615.0,105.5 L615.7,104.1 L616.3,102.7 L616.9,101.3 L617.6,99.9 L618.2,98.6 L618.9,97.2 L619.5,95.8 L620.1,94.4 L620.8,93.0 L621.4,91.6 L622.1,90.2 L622.7,88.8 L623.4,87.4 L624.0,86.0 L624.7,84.6 L625.3,83.2 L626.0,81.8 L626.7,80.4 L627.3,79.0 L628.0,77.5 L628.7,76.1 L629.3,74.7 L630.0,73.3 L630.7,71.9 L631.4,70.6 L632.1,69.2 L632.8,67.9 L633.6,66.5 L634.3,65.2 L635.1,63.9 L635.9,62.7 L636.7,61.4 L637.5,60.2 L638.4,59.0 L639.3,57.9 L640.2,56.8 L641.1,55.7 L642.0,54.7 L643.0,53.7 L644.0,52.8 L645.1,51.9 L646.2,51.0 L647.3,50.2 L648.4,49.5 L649.6,48.8 L650.8,48.1 L652.1,47.6 L653.4,47.0 L654.8,46.6 L656.2,46.2 L657.6,45.9 L659.1,45.7 L660.6,45.6 L662.2,45.6 L663.8,45.6 L665.5,45.6 L667.2,45.7 L669.0,45.9" fill="none" stroke="#006633" stroke-width="2.20" stroke-linecap="butt" stroke-linejoin="round"/>
<path d="M433.3,300.5 L434.8,300.6 L436.4,300.6 L437.9,300.7 L439.4,300.7 L440.9,300.8 L442.5,300.8 L444.0,300.8 L445.5,300.8 L447.0,300.8 L448.5,300.8 L450.1,300.8 L451.6,300.7 L453.1,300.7 L454.6,300.6 L456.1,300.6 L457.6,300.5 L459.1,300.4 L460.7,300.3 L462.2,300.2 L463.7,300.1 L465.2,299.9 L466.7,299.8 L468.2,299.6 L469.7,299.4 L471.2,299.2 L472.7,299.1 L474.2,298.8 L475.7,298.6 L477.1,298.4 L478.6,298.1 L480.1,297.9 L481.6,297.6 L483.1,297.3 L484.6,297.0 L486.0,296.7 L487.5,296.4 L489.0,296.1 L490.4,295.7 L491.9,295.4 L493.4,295.0 L494.8,294.6 L496.3,294.2 L497.7,293.8 L499.2,293.4 L500.6,292.9 L502.0,292.5 L503.5,292.0 L504.9,291.5 L506.3,291.0 L507.8,290.5 L509.2,290.0 L510.6,289.5 L512.0,288.9 L513.4,288.3 L514.8,287.8 L516.2,287.2 L517.6,286.5 L519.0,285.9 L520.4,285.3 L521.8,284.6 L523.2,283.9 L524.5,283.3 L525.9,282.5 L527.3,281.8 L528.6,281.1 L529.9,280.3 L531.2,279.6 L532.5,278.8 L533.8,278.0 L535.1,277.1 L536.4,276.3 L537.6,275.4 L538.8,274.5 L540.1,273.6 L541.3,272.7 L542.4,271.8 L543.6,270.8 L544.7,269.9 L545.9,268.9 L547.0,267.9 L548.1,266.9 L549.2,265.9 L550.3,264.9 L551.4,263.8 L552.5,262.8 L553.6,261.8 L554.7,260.8 L555.8,259.7 L556.9,258.7 L558.1,257.7 L559.2,256.7 L560.3,255.7 L561.4,254.7 L562.6,253.6 L563.7,252.6 L564.8,251.6 L566.0,250.6 L567.1,249.6 L568.2,248.6 L569.4,247.6 L570.5,246.6 L571.6,245.5 L572.8,244.5 L573.9,243.5 L575.0,242.5 L576.1,241.4 L577.2,240.4 L578.3,239.3 L579.4,238.3 L580.5,237.2 L581.5,236.1 L582.6,235.0 L583.7,234.0 L584.7,232.8 L585.7,231.7 L586.7,230.6 L587.7,229.5 L588.7,228.3 L589.7,227.2 L590.7,226.0 L591.6,224.9 L592.6,223.7 L593.5,222.5 L594.4,221.3 L595.4,220.1 L596.3,218.9 L597.2,217.7 L598.1,216.5 L599.0,215.3 L599.9,214.0 L600.8,212.8 L601.7,211.6 L602.5,210.3 L603.4,209.1 L604.3,207.8 L605.1,206.6 L606.0,205.4 L606.9,204.1 L607.7,202.9 L608.6,201.6 L609.5,200.4 L610.3,199.1 L611.2,197.8 L612.0,196.6 L612.9,195.3 L613.8,194.1 L614.6,192.9 L615.5,191.6 L616.4,190.4 L617.3,189.1 L618.1,187.9 L619.0,186.7 L619.9,185.4 L620.8,184.2 L621.7,183.0 L622.6,181.8 L623.5,180.6 L624.5,179.4 L625.4,178.2 L626.3,177.0 L627.3,175.9 L628.2,174.7 L629.2,173.5 L630.2,172.4 L631.2,171.2 L632.2,170.1 L633.2,169.0 L634.2,167.9 L635.3,166.8 L636.3,165.7 L637.4,164.7 L638.5,163.7 L639.6,162.7 L640.8,161.8 L642.0,161.0 L643.2,160.2 L644.5,159.5 L645.9,158.9 L647.2,158.4 L648.7,157.9 L650.2,157.6 L651.7,157.3 L653.2,157.2 L654.8,157.1 L656.5,157.0 L658.1,157.0 L659.7,157.1 L661.4,157.1 L663.0,157.2 L664.6,157.3 L666.2,157.4 L667.7,157.5 L669.2,157.6 L670.7,157.6 L672.1,157.6 L673.4,157.5 L674.7,157.4" fill="none" stroke="#0000ff" stroke-width="2.20" stroke-linecap="butt" stroke-linejoin="round"/>
<path d="M433.3,300.5 L434.8,300.6 L436.3,300.6 L437.9,300.7 L439.4,300.7 L440.9,300.8 L442.4,300.8 L444.0,300.8 L445.5,300.8 L447.0,300.8 L448.5,300.8 L450.0,300.8 L451.5,300.7 L453.1,300.7 L454.6,300.6 L456.1,300.6 L457.6,300.5 L459.1,300.4 L460.6,300.3 L462.1,300.2 L463.6,300.1 L465.1,300.0 L466.6,299.8 L468.1,299.7 L469.6,299.5 L471.1,299.4 L472.6,299.2 L474.1,299.0 L475.6,298.8 L477.1,298.6 L478.6,298.3 L480.1,298.1 L481.6,297.9 L483.1,297.6 L484.5,297.3 L486.0,297.0 L487.5,296.7 L489.0,296.4 L490.4,296.1 L491.9,295.7 L493.4,295.4 L494.8,295.0 L496.3,294.7 L497.7,294.3 L499.2,293.9 L500.6,293.4 L502.1,293.0 L503.5,292.6 L505.0,292.1 L506.4,291.6 L507.8,291.2 L509.3,290.7 L510.7,290.1 L512.1,289.6 L513.5,289.1 L514.9,288.5 L516.4,288.0 L517.8,287.4 L519.2,286.8 L520.6,286.2 L522.0,285.5 L523.3,284.9 L524.7,284.2 L526.1,283.6 L527.4,282.9 L528.8,282.1 L530.1,281.4 L531.5,280.7 L532.8,279.9 L534.1,279.1 L535.4,278.3 L536.6,277.5 L537.9,276.7 L539.1,275.8 L540.4,274.9 L541.6,274.0 L542.8,273.1 L543.9,272.2 L545.1,271.2 L546.2,270.3 L547.4,269.3 L548.5,268.3 L549.6,267.3 L550.8,266.3 L551.9,265.3 L553.0,264.3 L554.1,263.3 L555.2,262.3 L556.3,261.2 L557.4,260.2 L558.6,259.2 L559.7,258.2 L560.8,257.2 L561.9,256.2 L563.1,255.2 L564.2,254.2 L565.3,253.1 L566.5,252.1 L567.6,251.1 L568.7,250.1 L569.9,249.1 L571.0,248.1 L572.1,247.1 L573.2,246.0 L574.4,245.0 L575.5,244.0 L576.6,242.9 L577.7,241.9 L578.8,240.8 L579.9,239.8 L580.9,238.7 L582.0,237.7 L583.1,236.6 L584.1,235.5 L585.2,234.4 L586.2,233.3 L587.2,232.2 L588.3,231.1 L589.3,230.0 L590.3,228.9 L591.3,227.7 L592.3,226.6 L593.2,225.5 L594.2,224.3 L595.2,223.2 L596.1,222.0 L597.1,220.8 L598.0,219.7 L599.0,218.5 L599.9,217.3 L600.8,216.1 L601.8,214.9 L602.7,213.7 L603.6,212.5 L604.5,211.3 L605.4,210.1 L606.3,208.9 L607.2,207.7 L608.1,206.5 L609.0,205.3 L609.9,204.1 L610.8,202.9 L611.7,201.6 L612.6,200.4 L613.5,199.2 L614.4,198.0 L615.3,196.7 L616.2,195.5 L617.1,194.3 L617.9,193.1 L618.8,191.8 L619.7,190.6 L620.6,189.4 L621.5,188.1 L622.4,186.9 L623.3,185.7 L624.2,184.5 L625.1,183.3 L626.0,182.0 L627.0,180.8 L627.9,179.6 L628.8,178.4 L629.7,177.2 L630.7,176.0 L631.6,174.8 L632.5,173.6 L633.5,172.4 L634.4,171.2 L635.4,170.0 L636.4,168.8 L637.3,167.6 L638.3,166.5 L639.3,165.3 L640.3,164.2 L641.4,163.1 L642.4,162.0 L643.5,160.9 L644.6,159.9 L645.7,159.0 L646.9,158.1 L648.1,157.3 L649.3,156.5 L650.6,155.8 L651.9,155.2 L653.3,154.7 L654.7,154.3 L656.1,153.9 L657.6,153.6 L659.2,153.4 L660.7,153.2 L662.3,153.1 L663.8,153.0 L665.4,153.0 L667.0,153.0 L668.6,153.0 L670.2,153.0 L671.8,153.1 L673.3,153.1 L674.9,153.1 L676.4,153.2 L677.9,153.2 L679.3,153.1 L680.7,153.1 L682.1,153.0" fill="none" stroke="#9c612e" stroke-width="2.20" stroke-linecap="butt" stroke-linejoin="round"/>
<path d="M433.3,300.5 L434.8,300.6 L436.3,300.7 L437.8,300.8 L439.3,300.8 L440.8,300.8 L442.3,300.8 L443.8,300.8 L445.3,300.8 L446.9,300.8 L448.4,300.8 L449.9,300.8 L451.4,300.8 L452.9,300.8 L454.4,300.7 L455.9,300.7 L457.5,300.6 L459.0,300.4 L460.5,300.3 L462.0,300.2 L463.5,300.0 L465.0,299.8 L466.5,299.7 L468.0,299.5 L469.5,299.2 L471.0,299.0 L472.5,298.8 L474.0,298.5 L475.5,298.3 L477.0,298.0 L478.5,297.7 L480.0,297.4 L481.5,297.1 L483.0,296.7 L484.4,296.4 L485.9,296.0 L487.4,295.6 L488.9,295.2 L490.3,294.8 L491.8,294.4 L493.2,294.0 L494.7,293.6 L496.1,293.1 L497.5,292.6 L499.0,292.1 L500.4,291.6 L501.8,291.1 L503.2,290.6 L504.6,290.1 L506.1,289.5 L507.4,288.9 L508.8,288.4 L510.2,287.8 L511.6,287.2 L513.0,286.5 L514.3,285.9 L515.7,285.3 L517.0,284.6 L518.4,283.9 L519.7,283.2 L521.0,282.5 L522.3,281.8 L523.6,281.1 L524.9,280.3 L526.2,279.6 L527.5,278.8 L528.8,278.0 L530.0,277.2 L531.3,276.4 L532.5,275.6 L533.7,274.8 L535.0,273.9 L536.2,273.1 L537.4,272.2 L538.6,271.3 L539.8,270.5 L541.0,269.6 L542.2,268.6 L543.3,267.7 L544.5,266.8 L545.7,265.8 L546.8,264.9 L547.9,263.9 L549.1,262.9 L550.2,262.0 L551.3,261.0 L552.4,260.0 L553.5,258.9 L554.6,257.9 L555.7,256.9 L556.8,255.9 L557.9,254.8 L559.0,253.7 L560.0,252.7 L561.1,251.6 L562.1,250.5 L563.2,249.4 L564.2,248.3 L565.3,247.2 L566.3,246.1 L567.3,245.0 L568.3,243.9 L569.3,242.7 L570.3,241.6 L571.3,240.5 L572.3,239.3 L573.3,238.2 L574.3,237.0 L575.3,235.8 L576.3,234.7 L577.2,233.5 L578.2,232.3 L579.2,231.1 L580.1,229.9 L581.1,228.7 L582.0,227.5 L583.0,226.3 L583.9,225.1 L584.8,223.9 L585.8,222.7 L586.7,221.4 L587.6,220.2 L588.5,219.0 L589.4,217.8 L590.3,216.5 L591.2,215.3 L592.1,214.1 L593.0,212.8 L593.9,211.6 L594.8,210.3 L595.7,209.1 L596.6,207.8 L597.5,206.6 L598.4,205.3 L599.2,204.1 L600.1,202.8 L601.0,201.6 L601.9,200.3 L602.7,199.1 L603.6,197.8 L604.4,196.6 L605.3,195.3 L606.2,194.1 L607.0,192.8 L607.9,191.6 L608.7,190.3 L609.6,189.1 L610.4,187.8 L611.3,186.6 L612.1,185.3 L613.0,184.1 L613.8,182.9 L614.6,181.6 L615.5,180.4 L616.3,179.1 L617.1,177.9 L618.0,176.7 L618.8,175.4 L619.6,174.2 L620.5,173.0 L621.3,171.7 L622.1,170.5 L622.9,169.3 L623.8,168.0 L624.6,166.8 L625.4,165.6 L626.2,164.3 L627.0,163.1 L627.9,161.9 L628.7,160.6 L629.5,159.4 L630.3,158.2 L631.1,156.9 L631.9,155.7 L632.7,154.4 L633.5,153.2 L634.4,152.0 L635.2,150.7 L636.0,149.5 L636.8,148.2 L637.6,147.0 L638.4,145.7 L639.2,144.4 L640.0,143.2 L640.8,141.9 L641.6,140.6 L642.4,139.4 L643.2,138.1 L643.9,136.8 L644.7,135.5 L645.5,134.3 L646.3,133.0 L647.1,131.7 L647.9,130.4 L648.7,129.1 L649.5,127.8 L650.3,126.5 L651.0,125.2 L651.8,123.9 L652.6,122.5 L653.4,121.2 L654.2,119.9 L655.0,118.6 L655.7,117.2 L656.5,115.9 L657.3,114.5 L658.1,113.2 L658.9,111.8 L659.7,110.5 L660.4,109.2 L661.2,107.8 L662.0,106.5 L662.8,105.1 L663.7,103.8 L664.5,102.5 L665.3,101.2 L666.1,99.9 L667.0,98.6 L667.8,97.3 L668.6,96.0 L669.5,94.7 L670.4,93.5 L671.3,92.2 L672.2,91.0 L673.1,89.8 L674.0,88.5 L674.9,87.4 L675.8,86.2 L676.8,85.0 L677.8,83.9 L678.7,82.8 L679.7,81.7 L680.8,80.6 L681.8,79.5 L682.8,78.5 L683.9,77.5 L685.0,76.5 L686.1,75.6 L687.2,74.7 L688.3,73.8 L689.5,72.9 L690.6,72.1 L691.8,71.3 L693.0,70.5 L694.3,69.8 L695.5,69.1 L696.8,68.5 L698.1,67.9 L699.4,67.3 L700.8,66.8 L702.1,66.4 L703.5,66.0 L704.9,65.6 L706.4,65.3 L707.8,65.0 L709.3,64.8 L710.8,64.7 L712.3,64.7 L713.9,64.7 L715.5,64.7 L717.1,64.7 L718.7,64.8 L720.4,65.0 L722.1,65.3" fill="none" stroke="#ff0000" stroke-width="2.20" stroke-linecap="butt" stroke-linejoin="round"/>
<rect x="73.10" y="357.00" width="294.50" height="294.00" fill="none" stroke="#111111" stroke-width="1.70"/>
<line x1="73.10" y1="651.00" x2="73.10" y2="658.80" stroke="#111111" stroke-width="1.70"/>
<text x="73.10" y="675.10" font-size="12.00" text-anchor="middle" font-weight="bold" font-style="normal" fill="#000" >0</text>
<line x1="109.91" y1="651.00" x2="109.91" y2="658.80" stroke="#111111" stroke-width="1.70"/>
<text x="109.91" y="675.10" font-size="12.00" text-anchor="middle" font-weight="bold" font-style="normal" fill="#000" >2</text>
<line x1="146.72" y1="651.00" x2="146.72" y2="658.80" stroke="#111111" stroke-width="1.70"/>
<text x="146.72" y="675.10" font-size="12.00" text-anchor="middle" font-weight="bold" font-style="normal" fill="#000" >4</text>
<line x1="183.54" y1="651.00" x2="183.54" y2="658.80" stroke="#111111" stroke-width="1.70"/>
<text x="183.54" y="675.10" font-size="12.00" text-anchor="middle" font-weight="bold" font-style="normal" fill="#000" >6</text>
<line x1="220.35" y1="651.00" x2="220.35" y2="658.80" stroke="#111111" stroke-width="1.70"/>
<text x="220.35" y="675.10" font-size="12.00" text-anchor="middle" font-weight="bold" font-style="normal" fill="#000" >8</text>
<line x1="257.16" y1="651.00" x2="257.16" y2="658.80" stroke="#111111" stroke-width="1.70"/>
<text x="257.16" y="675.10" font-size="12.00" text-anchor="middle" font-weight="bold" font-style="normal" fill="#000" >10</text>
<line x1="293.98" y1="651.00" x2="293.98" y2="658.80" stroke="#111111" stroke-width="1.70"/>
<text x="293.98" y="675.10" font-size="12.00" text-anchor="middle" font-weight="bold" font-style="normal" fill="#000" >12</text>
<line x1="330.79" y1="651.00" x2="330.79" y2="658.80" stroke="#111111" stroke-width="1.70"/>
<text x="330.79" y="675.10" font-size="12.00" text-anchor="middle" font-weight="bold" font-style="normal" fill="#000" >14</text>
<line x1="367.60" y1="651.00" x2="367.60" y2="658.80" stroke="#111111" stroke-width="1.70"/>
<text x="367.60" y="675.10" font-size="12.00" text-anchor="middle" font-weight="bold" font-style="normal" fill="#000" >16</text>
<line x1="65.30" y1="651.00" x2="73.10" y2="651.00" stroke="#111111" stroke-width="1.70"/>
<text x="60.20" y="655.84" font-size="12.00" text-anchor="end" font-weight="bold" font-style="normal" fill="#000" >0</text>
<line x1="65.30" y1="621.60" x2="73.10" y2="621.60" stroke="#111111" stroke-width="1.70"/>
<text x="60.20" y="626.44" font-size="12.00" text-anchor="end" font-weight="bold" font-style="normal" fill="#000" >1E+014</text>
<line x1="65.30" y1="592.20" x2="73.10" y2="592.20" stroke="#111111" stroke-width="1.70"/>
<text x="60.20" y="597.04" font-size="12.00" text-anchor="end" font-weight="bold" font-style="normal" fill="#000" >2E+014</text>
<line x1="65.30" y1="562.80" x2="73.10" y2="562.80" stroke="#111111" stroke-width="1.70"/>
<text x="60.20" y="567.64" font-size="12.00" text-anchor="end" font-weight="bold" font-style="normal" fill="#000" >3E+014</text>
<line x1="65.30" y1="533.40" x2="73.10" y2="533.40" stroke="#111111" stroke-width="1.70"/>
<text x="60.20" y="538.24" font-size="12.00" text-anchor="end" font-weight="bold" font-style="normal" fill="#000" >4E+014</text>
<line x1="65.30" y1="504.00" x2="73.10" y2="504.00" stroke="#111111" stroke-width="1.70"/>
<text x="60.20" y="508.84" font-size="12.00" text-anchor="end" font-weight="bold" font-style="normal" fill="#000" >5E+014</text>
<line x1="65.30" y1="474.60" x2="73.10" y2="474.60" stroke="#111111" stroke-width="1.70"/>
<text x="60.20" y="479.44" font-size="12.00" text-anchor="end" font-weight="bold" font-style="normal" fill="#000" >6E+014</text>
<line x1="65.30" y1="445.20" x2="73.10" y2="445.20" stroke="#111111" stroke-width="1.70"/>
<text x="60.20" y="450.04" font-size="12.00" text-anchor="end" font-weight="bold" font-style="normal" fill="#000" >7E+014</text>
<line x1="65.30" y1="415.80" x2="73.10" y2="415.80" stroke="#111111" stroke-width="1.70"/>
<text x="60.20" y="420.64" font-size="12.00" text-anchor="end" font-weight="bold" font-style="normal" fill="#000" >8E+014</text>
<line x1="65.30" y1="386.40" x2="73.10" y2="386.40" stroke="#111111" stroke-width="1.70"/>
<text x="60.20" y="391.24" font-size="12.00" text-anchor="end" font-weight="bold" font-style="normal" fill="#000" >9E+014</text>
<line x1="65.30" y1="357.00" x2="73.10" y2="357.00" stroke="#111111" stroke-width="1.70"/>
<text x="60.20" y="361.84" font-size="12.00" text-anchor="end" font-weight="bold" font-style="normal" fill="#000" >1E+015</text>
<rect x="245.50" y="380.50" width="100.30" height="75.50" fill="#fff" stroke="#555" stroke-width="1"/>
<text x="295.00" y="395.80" font-size="12.10" text-anchor="middle" font-weight="bold" font-style="normal" fill="#000" >PSRJ1614-2330</text>
<line x1="249.40" y1="407.10" x2="297.60" y2="407.10" stroke="#006633" stroke-width="2.2"/>
<text x="302.00" y="410.48" font-size="9.82" text-anchor="start" font-weight="normal" font-style="normal" fill="#000" stroke="#000" stroke-width="0.4">model 1</text>
<line x1="249.40" y1="420.10" x2="297.60" y2="420.10" stroke="#0000ff" stroke-width="2.2"/>
<text x="302.00" y="423.48" font-size="9.82" text-anchor="start" font-weight="normal" font-style="normal" fill="#000" stroke="#000" stroke-width="0.4">model 2</text>
<line x1="249.40" y1="433.40" x2="297.60" y2="433.40" stroke="#9c612e" stroke-width="2.2"/>
<text x="302.00" y="436.78" font-size="9.82" text-anchor="start" font-weight="normal" font-style="normal" fill="#000" stroke="#000" stroke-width="0.4">model 3</text>
<line x1="249.40" y1="446.70" x2="297.60" y2="446.70" stroke="#ff0000" stroke-width="2.2"/>
<text x="302.00" y="450.08" font-size="9.82" text-anchor="start" font-weight="normal" font-style="normal" fill="#000" stroke="#000" stroke-width="0.4">model 4</text>
<path d="M73.1,357.0 L74.7,357.0 L76.3,357.1 L77.8,357.2 L79.4,357.3 L80.9,357.5 L82.5,357.6 L84.0,357.8 L85.5,358.0 L87.0,358.3 L88.5,358.5 L90.0,358.8 L91.5,359.1 L93.0,359.4 L94.5,359.8 L95.9,360.1 L97.4,360.5 L98.8,360.9 L100.2,361.4 L101.7,361.8 L103.1,362.3 L104.5,362.7 L105.9,363.2 L107.3,363.8 L108.6,364.3 L110.0,364.9 L111.4,365.4 L112.7,366.0 L114.1,366.6 L115.4,367.3 L116.8,367.9 L118.1,368.6 L119.4,369.2 L120.7,369.9 L122.0,370.6 L123.3,371.4 L124.6,372.1 L125.9,372.9 L127.1,373.6 L128.4,374.4 L129.7,375.2 L130.9,376.0 L132.2,376.8 L133.4,377.7 L134.6,378.5 L135.9,379.4 L137.1,380.2 L138.3,381.1 L139.5,382.0 L140.7,382.9 L141.9,383.8 L143.1,384.8 L144.3,385.7 L145.4,386.7 L146.6,387.6 L147.8,388.6 L148.9,389.6 L150.1,390.5 L151.2,391.5 L152.4,392.5 L153.5,393.6 L154.6,394.6 L155.7,395.6 L156.8,396.6 L158.0,397.7 L159.1,398.7 L160.2,399.8 L161.3,400.9 L162.4,401.9 L163.4,403.0 L164.5,404.1 L165.6,405.2 L166.7,406.3 L167.7,407.4 L168.8,408.5 L169.9,409.6 L170.9,410.7 L172.0,411.8 L173.0,412.9 L174.0,414.0 L175.1,415.1 L176.1,416.2 L177.1,417.4 L178.2,418.5 L179.2,419.6 L180.2,420.8 L181.2,421.9 L182.2,423.0 L183.2,424.2 L184.2,425.3 L185.2,426.4 L186.2,427.6 L187.2,428.7 L188.2,429.9 L189.2,431.0 L190.1,432.2 L191.1,433.3 L192.1,434.5 L193.1,435.6 L194.0,436.8 L195.0,438.0 L195.9,439.1 L196.9,440.3 L197.9,441.4 L198.8,442.6 L199.7,443.8 L200.7,445.0 L201.6,446.1 L202.6,447.3 L203.5,448.5 L204.4,449.7 L205.4,450.8 L206.3,452.0 L207.2,453.2 L208.1,454.4 L209.1,455.6 L210.0,456.8 L210.9,458.0 L211.8,459.1 L212.7,460.3 L213.6,461.5 L214.5,462.7 L215.5,463.9 L216.4,465.1 L217.3,466.3 L218.2,467.5 L219.1,468.7 L219.9,470.0 L220.8,471.2 L221.7,472.4 L222.6,473.6 L223.5,474.8 L224.4,476.0 L225.3,477.2 L226.2,478.4 L227.0,479.7 L227.9,480.9 L228.8,482.1 L229.7,483.3 L230.6,484.6 L231.4,485.8 L232.3,487.0 L233.2,488.2 L234.1,489.5 L234.9,490.7 L235.8,491.9 L236.7,493.2 L237.5,494.4 L238.4,495.7 L239.3,496.9 L240.1,498.1 L241.0,499.4 L241.9,500.6 L242.7,501.9 L243.6,503.1 L244.5,504.4 L245.3,505.6 L246.2,506.9 L247.0,508.1 L247.9,509.4 L248.7,510.6 L249.6,511.9 L250.4,513.2 L251.3,514.4 L252.1,515.7 L252.9,517.0 L253.8,518.2 L254.6,519.5 L255.4,520.8 L256.2,522.1 L257.0,523.4 L257.8,524.7 L258.6,526.0 L259.3,527.3 L260.1,528.6 L260.9,529.9 L261.6,531.2 L262.3,532.5 L263.1,533.8 L263.8,535.1 L264.5,536.5 L265.2,537.8 L265.8,539.1 L266.5,540.5 L267.1,541.8 L267.8,543.2 L268.4,544.5 L269.0,545.9 L269.6,547.3 L270.2,548.6 L270.7,550.0 L271.3,551.4 L271.8,552.8 L272.3,554.2 L272.8,555.6 L273.3,557.0 L273.8,558.4 L274.3,559.8 L274.8,561.2 L275.2,562.7 L275.7,564.1 L276.1,565.5 L276.5,567.0 L276.9,568.4 L277.3,569.9 L277.7,571.3 L278.1,572.8 L278.5,574.3 L278.8,575.8 L279.2,577.2 L279.5,578.7 L279.9,580.2 L280.2,581.7 L280.5,583.2 L280.8,584.7 L281.1,586.2 L281.4,587.7 L281.7,589.3 L282.0,590.8 L282.2,592.3 L282.5,593.9 L282.8,595.4 L283.0,596.9 L283.3,598.5 L283.6,600.0 L283.8,601.5 L284.1,603.1 L284.4,604.6 L284.6,606.1 L284.9,607.7 L285.2,609.2 L285.5,610.7 L285.8,612.2 L286.2,613.7 L286.5,615.2 L286.9,616.7 L287.2,618.1 L287.6,619.6 L288.0,621.0 L288.5,622.5 L288.9,623.9 L289.4,625.3 L289.9,626.6 L290.4,628.0 L291.0,629.3 L291.6,630.7 L292.2,632.0 L292.8,633.2 L293.5,634.5 L294.2,635.7 L295.0,636.9 L295.8,638.1 L296.6,639.3 L297.5,640.4 L298.4,641.5 L299.3,642.6 L300.3,643.6 L301.3,644.7 L302.4,645.6 L303.6,646.6 L304.7,647.5 L306.0,648.4 L307.3,649.2 L308.6,650.0 L310.0,650.8" fill="none" stroke="#006633" stroke-width="2.20" stroke-linecap="butt" stroke-linejoin="round"/>
<path d="M73.1,444.9 L74.6,444.9 L76.1,445.0 L77.6,445.0 L79.1,445.1 L80.7,445.2 L82.2,445.2 L83.7,445.4 L85.2,445.5 L86.7,445.6 L88.2,445.7 L89.7,445.9 L91.2,446.0 L92.7,446.2 L94.2,446.4 L95.7,446.6 L97.1,446.8 L98.6,447.0 L100.1,447.2 L101.6,447.5 L103.1,447.7 L104.6,448.0 L106.1,448.2 L107.5,448.5 L109.0,448.8 L110.5,449.1 L112.0,449.4 L113.4,449.8 L114.9,450.1 L116.4,450.4 L117.8,450.8 L119.3,451.2 L120.7,451.5 L122.2,451.9 L123.7,452.3 L125.1,452.7 L126.6,453.1 L128.0,453.5 L129.4,454.0 L130.9,454.4 L132.3,454.9 L133.8,455.3 L135.2,455.8 L136.6,456.3 L138.0,456.8 L139.5,457.3 L140.9,457.8 L142.3,458.3 L143.7,458.8 L145.1,459.3 L146.5,459.9 L147.9,460.4 L149.3,461.0 L150.7,461.5 L152.1,462.1 L153.5,462.7 L154.9,463.3 L156.3,463.9 L157.7,464.5 L159.1,465.1 L160.4,465.7 L161.8,466.3 L163.2,467.0 L164.5,467.6 L165.9,468.3 L167.3,468.9 L168.6,469.6 L170.0,470.3 L171.3,470.9 L172.7,471.6 L174.0,472.3 L175.3,473.0 L176.7,473.7 L178.0,474.4 L179.3,475.1 L180.7,475.8 L182.0,476.6 L183.3,477.3 L184.6,478.0 L185.9,478.7 L187.2,479.5 L188.5,480.2 L189.9,481.0 L191.2,481.7 L192.5,482.5 L193.8,483.2 L195.1,484.0 L196.3,484.8 L197.6,485.5 L198.9,486.3 L200.2,487.1 L201.5,487.9 L202.8,488.6 L204.1,489.4 L205.3,490.2 L206.6,491.0 L207.9,491.8 L209.2,492.6 L210.4,493.4 L211.7,494.2 L213.0,495.0 L214.2,495.8 L215.5,496.6 L216.7,497.4 L218.0,498.2 L219.2,499.0 L220.5,499.8 L221.7,500.7 L223.0,501.5 L224.2,502.3 L225.5,503.2 L226.7,504.0 L228.0,504.9 L229.2,505.8 L230.4,506.6 L231.7,507.5 L232.9,508.4 L234.1,509.3 L235.3,510.2 L236.5,511.1 L237.8,512.0 L239.0,513.0 L240.2,513.9 L241.4,514.8 L242.6,515.8 L243.8,516.8 L245.0,517.7 L246.2,518.7 L247.4,519.7 L248.6,520.7 L249.7,521.7 L250.9,522.8 L252.0,523.8 L253.1,524.9 L254.2,525.9 L255.2,527.0 L256.3,528.1 L257.3,529.2 L258.2,530.4 L259.2,531.5 L260.1,532.7 L261.0,533.9 L261.8,535.0 L262.7,536.2 L263.5,537.5 L264.3,538.7 L265.0,539.9 L265.8,541.2 L266.5,542.5 L267.2,543.7 L267.9,545.0 L268.5,546.3 L269.1,547.7 L269.7,549.0 L270.3,550.3 L270.9,551.7 L271.5,553.0 L272.0,554.4 L272.5,555.8 L273.0,557.2 L273.5,558.6 L274.0,560.0 L274.4,561.4 L274.9,562.8 L275.3,564.2 L275.7,565.7 L276.1,567.1 L276.5,568.6 L276.9,570.0 L277.3,571.5 L277.7,573.0 L278.0,574.4 L278.3,575.9 L278.7,577.4 L279.0,578.9 L279.3,580.4 L279.6,581.9 L279.9,583.4 L280.2,584.9 L280.5,586.5 L280.8,588.0 L281.1,589.5 L281.4,591.0 L281.7,592.6 L282.0,594.1 L282.2,595.6 L282.5,597.2 L282.8,598.7 L283.1,600.2 L283.3,601.8 L283.6,603.3 L283.9,604.8 L284.2,606.4 L284.5,607.9 L284.8,609.5 L285.1,611.0 L285.4,612.5 L285.7,614.1 L286.0,615.6 L286.3,617.1 L286.7,618.6 L287.1,620.1 L287.5,621.5 L287.9,623.0 L288.3,624.4 L288.8,625.9 L289.3,627.3 L289.8,628.6 L290.3,630.0 L290.9,631.3 L291.5,632.6 L292.1,633.9 L292.8,635.2 L293.5,636.4 L294.3,637.6 L295.0,638.8 L295.9,639.9 L296.8,641.0 L297.7,642.1 L298.6,643.1 L299.7,644.1 L300.7,645.0 L301.9,645.9 L303.0,646.7 L304.3,647.5 L305.6,648.2 L306.9,648.9 L308.3,649.5 L309.8,650.0 L311.4,650.4 L313.0,650.8" fill="none" stroke="#0000ff" stroke-width="2.20" stroke-linecap="butt" stroke-linejoin="round"/>
<path d="M73.1,444.9 L74.6,444.9 L76.1,445.0 L77.6,445.0 L79.1,445.1 L80.6,445.1 L82.1,445.2 L83.7,445.3 L85.2,445.4 L86.7,445.5 L88.2,445.7 L89.7,445.8 L91.2,446.0 L92.7,446.1 L94.2,446.3 L95.7,446.5 L97.1,446.7 L98.6,446.9 L100.1,447.2 L101.6,447.4 L103.1,447.7 L104.6,447.9 L106.1,448.2 L107.6,448.5 L109.0,448.8 L110.5,449.1 L112.0,449.4 L113.5,449.7 L114.9,450.1 L116.4,450.4 L117.9,450.8 L119.3,451.1 L120.8,451.5 L122.3,451.9 L123.7,452.3 L125.2,452.7 L126.6,453.1 L128.1,453.6 L129.5,454.0 L131.0,454.5 L132.4,454.9 L133.8,455.4 L135.3,455.8 L136.7,456.3 L138.1,456.8 L139.6,457.3 L141.0,457.8 L142.4,458.4 L143.8,458.9 L145.2,459.4 L146.6,460.0 L148.0,460.5 L149.4,461.1 L150.8,461.6 L152.2,462.2 L153.6,462.8 L155.0,463.4 L156.3,464.0 L157.7,464.6 L159.1,465.2 L160.5,465.8 L161.8,466.5 L163.2,467.1 L164.5,467.7 L165.9,468.4 L167.2,469.0 L168.6,469.7 L169.9,470.4 L171.2,471.0 L172.6,471.7 L173.9,472.4 L175.2,473.1 L176.6,473.8 L177.9,474.5 L179.2,475.2 L180.5,475.9 L181.8,476.6 L183.2,477.3 L184.5,478.0 L185.8,478.8 L187.1,479.5 L188.4,480.2 L189.7,481.0 L191.0,481.7 L192.3,482.5 L193.6,483.2 L195.0,484.0 L196.3,484.7 L197.6,485.5 L198.9,486.2 L200.2,487.0 L201.5,487.7 L202.8,488.5 L204.1,489.3 L205.4,490.0 L206.8,490.8 L208.1,491.6 L209.4,492.3 L210.7,493.1 L212.0,493.9 L213.3,494.7 L214.6,495.4 L216.0,496.2 L217.3,497.0 L218.6,497.8 L219.9,498.6 L221.2,499.4 L222.5,500.2 L223.8,501.0 L225.1,501.8 L226.3,502.7 L227.6,503.5 L228.9,504.3 L230.2,505.2 L231.4,506.0 L232.7,506.9 L233.9,507.7 L235.2,508.6 L236.4,509.5 L237.6,510.4 L238.9,511.3 L240.1,512.2 L241.3,513.1 L242.5,514.0 L243.6,515.0 L244.8,515.9 L246.0,516.9 L247.1,517.8 L248.3,518.8 L249.4,519.8 L250.5,520.8 L251.6,521.8 L252.7,522.8 L253.8,523.9 L254.8,524.9 L255.9,526.0 L256.9,527.0 L257.9,528.1 L258.9,529.2 L259.9,530.3 L260.9,531.4 L261.9,532.6 L262.8,533.7 L263.7,534.9 L264.6,536.1 L265.5,537.3 L266.4,538.5 L267.3,539.7 L268.1,540.9 L268.9,542.1 L269.7,543.4 L270.5,544.6 L271.3,545.9 L272.0,547.2 L272.8,548.5 L273.5,549.8 L274.2,551.1 L274.9,552.4 L275.5,553.7 L276.1,555.1 L276.7,556.4 L277.3,557.8 L277.9,559.2 L278.5,560.6 L279.0,562.0 L279.5,563.4 L280.0,564.8 L280.5,566.2 L280.9,567.6 L281.4,569.1 L281.8,570.5 L282.2,572.0 L282.6,573.4 L283.0,574.9 L283.4,576.4 L283.7,577.9 L284.1,579.4 L284.4,580.9 L284.8,582.4 L285.1,583.9 L285.4,585.4 L285.8,586.9 L286.1,588.4 L286.4,589.9 L286.7,591.4 L287.0,592.9 L287.3,594.5 L287.6,596.0 L287.9,597.5 L288.2,599.1 L288.5,600.6 L288.9,602.1 L289.2,603.6 L289.5,605.2 L289.8,606.7 L290.2,608.2 L290.5,609.7 L290.9,611.2 L291.2,612.8 L291.6,614.3 L292.0,615.8 L292.4,617.2 L292.8,618.7 L293.3,620.2 L293.7,621.6 L294.2,623.0 L294.7,624.4 L295.2,625.8 L295.8,627.2 L296.3,628.6 L296.9,629.9 L297.6,631.2 L298.2,632.5 L298.9,633.7 L299.7,634.9 L300.4,636.1 L301.2,637.3 L302.1,638.4 L302.9,639.5 L303.9,640.6 L304.8,641.6 L305.8,642.6 L306.9,643.5 L308.0,644.4 L309.1,645.3 L310.3,646.1 L311.5,646.8 L312.8,647.6 L314.1,648.2 L315.5,648.8 L317.0,649.4 L318.5,649.9 L320.1,650.4 L321.7,650.8" fill="none" stroke="#9c612e" stroke-width="2.20" stroke-linecap="butt" stroke-linejoin="round"/>
<path d="M73.1,415.6 L74.6,415.6 L76.2,415.6 L77.7,415.6 L79.2,415.7 L80.8,415.7 L82.3,415.8 L83.8,415.9 L85.3,416.0 L86.8,416.2 L88.3,416.3 L89.8,416.5 L91.3,416.7 L92.8,416.9 L94.3,417.1 L95.8,417.4 L97.3,417.6 L98.8,417.9 L100.2,418.2 L101.7,418.5 L103.2,418.8 L104.6,419.1 L106.1,419.5 L107.5,419.8 L109.0,420.2 L110.4,420.6 L111.9,421.0 L113.3,421.4 L114.8,421.9 L116.2,422.3 L117.6,422.8 L119.0,423.2 L120.5,423.7 L121.9,424.2 L123.3,424.7 L124.7,425.2 L126.1,425.7 L127.5,426.3 L128.9,426.8 L130.3,427.4 L131.7,428.0 L133.1,428.6 L134.5,429.1 L135.9,429.8 L137.2,430.4 L138.6,431.0 L140.0,431.6 L141.4,432.3 L142.7,432.9 L144.1,433.6 L145.4,434.2 L146.8,434.9 L148.1,435.6 L149.5,436.3 L150.8,437.0 L152.2,437.7 L153.5,438.4 L154.8,439.1 L156.2,439.8 L157.5,440.6 L158.8,441.3 L160.1,442.1 L161.4,442.8 L162.7,443.6 L164.0,444.3 L165.3,445.1 L166.6,445.9 L167.9,446.6 L169.2,447.4 L170.5,448.2 L171.8,449.0 L173.1,449.8 L174.4,450.6 L175.6,451.4 L176.9,452.2 L178.2,453.0 L179.4,453.9 L180.7,454.7 L182.0,455.5 L183.2,456.4 L184.5,457.2 L185.7,458.1 L187.0,458.9 L188.2,459.8 L189.4,460.6 L190.7,461.5 L191.9,462.4 L193.1,463.3 L194.3,464.2 L195.6,465.0 L196.8,465.9 L198.0,466.8 L199.2,467.7 L200.4,468.6 L201.6,469.6 L202.8,470.5 L204.0,471.4 L205.2,472.3 L206.4,473.3 L207.6,474.2 L208.8,475.1 L209.9,476.1 L211.1,477.0 L212.3,478.0 L213.5,478.9 L214.6,479.9 L215.8,480.8 L216.9,481.8 L218.1,482.8 L219.2,483.8 L220.4,484.7 L221.5,485.7 L222.7,486.7 L223.8,487.7 L225.0,488.7 L226.1,489.7 L227.2,490.7 L228.3,491.7 L229.5,492.7 L230.6,493.7 L231.7,494.7 L232.8,495.8 L233.9,496.8 L235.0,497.8 L236.1,498.8 L237.2,499.9 L238.3,500.9 L239.4,501.9 L240.5,503.0 L241.6,504.0 L242.7,505.1 L243.8,506.1 L244.8,507.2 L245.9,508.3 L247.0,509.3 L248.0,510.4 L249.1,511.4 L250.2,512.5 L251.2,513.6 L252.3,514.7 L253.3,515.7 L254.4,516.8 L255.4,517.9 L256.5,519.0 L257.6,520.0 L258.6,521.1 L259.6,522.2 L260.7,523.3 L261.7,524.4 L262.8,525.5 L263.8,526.6 L264.9,527.6 L265.9,528.7 L267.0,529.8 L268.0,530.9 L269.1,532.0 L270.1,533.1 L271.2,534.2 L272.2,535.2 L273.3,536.3 L274.3,537.4 L275.4,538.5 L276.4,539.6 L277.5,540.6 L278.6,541.7 L279.6,542.8 L280.7,543.9 L281.7,544.9 L282.8,546.0 L283.9,547.1 L285.0,548.1 L286.0,549.2 L287.1,550.3 L288.2,551.3 L289.3,552.4 L290.3,553.5 L291.4,554.5 L292.5,555.6 L293.6,556.7 L294.6,557.7 L295.7,558.8 L296.7,559.9 L297.8,561.0 L298.8,562.0 L299.9,563.1 L300.9,564.2 L301.9,565.3 L302.9,566.4 L304.0,567.6 L304.9,568.7 L305.9,569.8 L306.9,571.0 L307.9,572.1 L308.8,573.3 L309.8,574.4 L310.7,575.6 L311.6,576.8 L312.5,578.0 L313.4,579.2 L314.2,580.4 L315.1,581.7 L315.9,582.9 L316.7,584.2 L317.5,585.5 L318.3,586.8 L319.1,588.1 L319.8,589.4 L320.5,590.8 L321.2,592.1 L321.9,593.5 L322.5,594.9 L323.2,596.3 L323.8,597.7 L324.4,599.1 L324.9,600.6 L325.5,602.0 L326.1,603.5 L326.6,605.0 L327.2,606.4 L327.7,607.9 L328.2,609.4 L328.7,610.8 L329.3,612.3 L329.8,613.8 L330.3,615.3 L330.8,616.7 L331.4,618.2 L331.9,619.6 L332.5,621.0 L333.0,622.5 L333.6,623.9 L334.2,625.3 L334.8,626.6 L335.4,628.0 L336.1,629.3 L336.7,630.7 L337.4,632.0 L338.1,633.2 L338.9,634.5 L339.6,635.7 L340.4,636.9 L341.2,638.0 L342.1,639.2 L343.0,640.3 L343.9,641.3 L344.9,642.3 L345.9,643.3 L346.9,644.3 L348.0,645.2 L349.2,646.0 L350.3,646.8 L351.6,647.6 L352.9,648.3 L354.2,648.9 L355.6,649.4 L357.1,649.9 L358.6,650.3 L360.2,650.6 L361.9,650.8" fill="none" stroke="#ff0000" stroke-width="2.20" stroke-linecap="butt" stroke-linejoin="round"/>
<rect x="464.80" y="357.00" width="294.40" height="294.00" fill="none" stroke="#111111" stroke-width="1.70"/>
<line x1="464.80" y1="651.00" x2="464.80" y2="658.80" stroke="#111111" stroke-width="1.70"/>
<text x="464.80" y="675.10" font-size="12.00" text-anchor="middle" font-weight="bold" font-style="normal" fill="#000" >0</text>
<line x1="501.60" y1="651.00" x2="501.60" y2="658.80" stroke="#111111" stroke-width="1.70"/>
<text x="501.60" y="675.10" font-size="12.00" text-anchor="middle" font-weight="bold" font-style="normal" fill="#000" >2</text>
<line x1="538.40" y1="651.00" x2="538.40" y2="658.80" stroke="#111111" stroke-width="1.70"/>
<text x="538.40" y="675.10" font-size="12.00" text-anchor="middle" font-weight="bold" font-style="normal" fill="#000" >4</text>
<line x1="575.20" y1="651.00" x2="575.20" y2="658.80" stroke="#111111" stroke-width="1.70"/>
<text x="575.20" y="675.10" font-size="12.00" text-anchor="middle" font-weight="bold" font-style="normal" fill="#000" >6</text>
<line x1="612.00" y1="651.00" x2="612.00" y2="658.80" stroke="#111111" stroke-width="1.70"/>
<text x="612.00" y="675.10" font-size="12.00" text-anchor="middle" font-weight="bold" font-style="normal" fill="#000" >8</text>
<line x1="648.80" y1="651.00" x2="648.80" y2="658.80" stroke="#111111" stroke-width="1.70"/>
<text x="648.80" y="675.10" font-size="12.00" text-anchor="middle" font-weight="bold" font-style="normal" fill="#000" >10</text>
<line x1="685.60" y1="651.00" x2="685.60" y2="658.80" stroke="#111111" stroke-width="1.70"/>
<text x="685.60" y="675.10" font-size="12.00" text-anchor="middle" font-weight="bold" font-style="normal" fill="#000" >12</text>
<line x1="722.40" y1="651.00" x2="722.40" y2="658.80" stroke="#111111" stroke-width="1.70"/>
<text x="722.40" y="675.10" font-size="12.00" text-anchor="middle" font-weight="bold" font-style="normal" fill="#000" >14</text>
<line x1="759.20" y1="651.00" x2="759.20" y2="658.80" stroke="#111111" stroke-width="1.70"/>
<text x="759.20" y="675.10" font-size="12.00" text-anchor="middle" font-weight="bold" font-style="normal" fill="#000" >16</text>
<line x1="457.00" y1="651.00" x2="464.80" y2="651.00" stroke="#111111" stroke-width="1.70"/>
<text x="451.70" y="655.84" font-size="12.00" text-anchor="end" font-weight="bold" font-style="normal" fill="#000" >0</text>
<line x1="457.00" y1="621.60" x2="464.80" y2="621.60" stroke="#111111" stroke-width="1.70"/>
<text x="451.70" y="626.44" font-size="12.00" text-anchor="end" font-weight="bold" font-style="normal" fill="#000" >2.5E+034</text>
<line x1="457.00" y1="592.20" x2="464.80" y2="592.20" stroke="#111111" stroke-width="1.70"/>
<text x="451.70" y="597.04" font-size="12.00" text-anchor="end" font-weight="bold" font-style="normal" fill="#000" >5E+034</text>
<line x1="457.00" y1="562.80" x2="464.80" y2="562.80" stroke="#111111" stroke-width="1.70"/>
<text x="451.70" y="567.64" font-size="12.00" text-anchor="end" font-weight="bold" font-style="normal" fill="#000" >7.5E+034</text>
<line x1="457.00" y1="533.40" x2="464.80" y2="533.40" stroke="#111111" stroke-width="1.70"/>
<text x="451.70" y="538.24" font-size="12.00" text-anchor="end" font-weight="bold" font-style="normal" fill="#000" >1E+035</text>
<line x1="457.00" y1="504.00" x2="464.80" y2="504.00" stroke="#111111" stroke-width="1.70"/>
<text x="451.70" y="508.84" font-size="12.00" text-anchor="end" font-weight="bold" font-style="normal" fill="#000" >1.25E+035</text>
<line x1="457.00" y1="474.60" x2="464.80" y2="474.60" stroke="#111111" stroke-width="1.70"/>
<text x="451.70" y="479.44" font-size="12.00" text-anchor="end" font-weight="bold" font-style="normal" fill="#000" >1.5E+035</text>
<line x1="457.00" y1="445.20" x2="464.80" y2="445.20" stroke="#111111" stroke-width="1.70"/>
<text x="451.70" y="450.04" font-size="12.00" text-anchor="end" font-weight="bold" font-style="normal" fill="#000" >1.75E+035</text>
<line x1="457.00" y1="415.80" x2="464.80" y2="415.80" stroke="#111111" stroke-width="1.70"/>
<text x="451.70" y="420.64" font-size="12.00" text-anchor="end" font-weight="bold" font-style="normal" fill="#000" >2E+035</text>
<line x1="457.00" y1="386.40" x2="464.80" y2="386.40" stroke="#111111" stroke-width="1.70"/>
<text x="451.70" y="391.24" font-size="12.00" text-anchor="end" font-weight="bold" font-style="normal" fill="#000" >2.25E+035</text>
<line x1="457.00" y1="357.00" x2="464.80" y2="357.00" stroke="#111111" stroke-width="1.70"/>
<text x="451.70" y="361.84" font-size="12.00" text-anchor="end" font-weight="bold" font-style="normal" fill="#000" >2.5E+035</text>
<rect x="637.20" y="380.50" width="100.20" height="75.50" fill="#fff" stroke="#555" stroke-width="1"/>
<text x="686.80" y="395.80" font-size="12.10" text-anchor="middle" font-weight="bold" font-style="normal" fill="#000" >PSRJ1614-2330</text>
<line x1="641.10" y1="407.10" x2="689.50" y2="407.10" stroke="#006633" stroke-width="2.2"/>
<text x="693.50" y="410.48" font-size="9.82" text-anchor="start" font-weight="normal" font-style="normal" fill="#000" stroke="#000" stroke-width="0.4">model 1</text>
<line x1="641.10" y1="420.10" x2="689.50" y2="420.10" stroke="#0000ff" stroke-width="2.2"/>
<text x="693.50" y="423.48" font-size="9.82" text-anchor="start" font-weight="normal" font-style="normal" fill="#000" stroke="#000" stroke-width="0.4">model 2</text>
<line x1="641.10" y1="433.40" x2="689.50" y2="433.40" stroke="#9c612e" stroke-width="2.2"/>
<text x="693.50" y="436.78" font-size="9.82" text-anchor="start" font-weight="normal" font-style="normal" fill="#000" stroke="#000" stroke-width="0.4">model 3</text>
<line x1="641.10" y1="446.70" x2="689.50" y2="446.70" stroke="#ff0000" stroke-width="2.2"/>
<text x="693.50" y="450.08" font-size="9.82" text-anchor="start" font-weight="normal" font-style="normal" fill="#000" stroke="#000" stroke-width="0.4">model 4</text>
<path d="M464.8,386.7 L466.4,386.7 L467.9,386.7 L469.4,386.8 L470.9,386.9 L472.4,387.1 L473.9,387.4 L475.4,387.6 L476.8,387.9 L478.3,388.3 L479.7,388.7 L481.1,389.2 L482.5,389.6 L483.9,390.2 L485.3,390.7 L486.7,391.3 L488.0,391.9 L489.4,392.6 L490.7,393.3 L492.0,394.0 L493.3,394.8 L494.6,395.5 L495.9,396.3 L497.1,397.2 L498.4,398.0 L499.6,398.9 L500.9,399.8 L502.1,400.7 L503.3,401.7 L504.5,402.6 L505.7,403.6 L506.9,404.6 L508.0,405.6 L509.2,406.6 L510.3,407.6 L511.5,408.6 L512.6,409.7 L513.7,410.7 L514.8,411.7 L515.9,412.8 L517.0,413.9 L518.0,414.9 L519.1,416.0 L520.2,417.1 L521.2,418.2 L522.2,419.3 L523.3,420.4 L524.3,421.5 L525.3,422.6 L526.3,423.8 L527.3,424.9 L528.3,426.0 L529.3,427.2 L530.2,428.3 L531.2,429.5 L532.2,430.6 L533.1,431.8 L534.0,433.0 L535.0,434.1 L535.9,435.3 L536.8,436.5 L537.8,437.7 L538.7,438.9 L539.6,440.1 L540.5,441.3 L541.4,442.5 L542.3,443.7 L543.2,444.9 L544.0,446.1 L544.9,447.3 L545.8,448.5 L546.7,449.7 L547.5,451.0 L548.4,452.2 L549.3,453.4 L550.1,454.7 L551.0,455.9 L551.8,457.1 L552.7,458.4 L553.5,459.6 L554.3,460.9 L555.2,462.1 L556.0,463.4 L556.8,464.6 L557.7,465.9 L558.5,467.1 L559.3,468.4 L560.2,469.7 L561.0,470.9 L561.8,472.2 L562.6,473.5 L563.4,474.7 L564.2,476.0 L565.1,477.3 L565.9,478.5 L566.7,479.8 L567.5,481.1 L568.3,482.3 L569.1,483.6 L569.9,484.9 L570.7,486.2 L571.5,487.5 L572.3,488.7 L573.1,490.0 L573.9,491.3 L574.7,492.6 L575.5,493.8 L576.3,495.1 L577.1,496.4 L577.9,497.7 L578.7,499.0 L579.5,500.2 L580.3,501.5 L581.1,502.8 L581.9,504.1 L582.7,505.4 L583.5,506.6 L584.3,507.9 L585.1,509.2 L585.9,510.5 L586.8,511.8 L587.6,513.0 L588.4,514.3 L589.2,515.6 L590.0,516.9 L590.8,518.1 L591.6,519.4 L592.4,520.7 L593.2,521.9 L594.1,523.2 L594.9,524.5 L595.7,525.7 L596.5,527.0 L597.3,528.3 L598.2,529.5 L599.0,530.8 L599.8,532.0 L600.7,533.3 L601.5,534.5 L602.4,535.8 L603.2,537.0 L604.0,538.3 L604.9,539.5 L605.7,540.8 L606.6,542.0 L607.4,543.3 L608.3,544.5 L609.2,545.7 L610.0,547.0 L610.9,548.2 L611.8,549.4 L612.6,550.7 L613.5,551.9 L614.4,553.1 L615.2,554.3 L616.1,555.6 L617.0,556.8 L617.9,558.0 L618.7,559.2 L619.6,560.4 L620.5,561.7 L621.4,562.9 L622.3,564.1 L623.1,565.3 L624.0,566.5 L624.9,567.8 L625.8,569.0 L626.7,570.2 L627.5,571.4 L628.4,572.6 L629.3,573.9 L630.2,575.1 L631.1,576.3 L632.0,577.5 L632.8,578.7 L633.7,580.0 L634.6,581.2 L635.5,582.4 L636.4,583.6 L637.2,584.8 L638.1,586.1 L639.0,587.3 L639.9,588.5 L640.7,589.7 L641.6,591.0 L642.5,592.2 L643.4,593.4 L644.2,594.7 L645.1,595.9 L646.0,597.1 L646.8,598.4 L647.7,599.6 L648.5,600.9 L649.4,602.1 L650.3,603.4 L651.1,604.6 L652.0,605.9 L652.8,607.1 L653.6,608.4 L654.5,609.6 L655.3,610.9 L656.2,612.1 L657.0,613.4 L657.8,614.7 L658.7,615.9 L659.5,617.2 L660.3,618.5 L661.1,619.8 L662.0,621.0 L662.8,622.3 L663.6,623.6 L664.4,624.8 L665.3,626.1 L666.1,627.4 L666.9,628.6 L667.7,629.9 L668.6,631.1 L669.4,632.4 L670.2,633.6 L671.1,634.9 L671.9,636.1 L672.8,637.4 L673.6,638.6 L674.5,639.8 L675.4,641.0 L676.2,642.2 L677.1,643.3 L678.1,644.5 L679.0,645.5 L680.1,646.6 L681.1,647.5 L682.2,648.4 L683.4,649.2 L684.7,649.8 L686.0,650.4 L687.5,650.9 L689.0,651.2" fill="none" stroke="#006633" stroke-width="2.20" stroke-linecap="butt" stroke-linejoin="round"/>
<path d="M464.8,436.3 L466.3,436.4 L467.8,436.5 L469.3,436.7 L470.8,436.8 L472.3,437.0 L473.8,437.2 L475.3,437.5 L476.8,437.7 L478.3,438.0 L479.8,438.2 L481.2,438.5 L482.7,438.9 L484.2,439.2 L485.6,439.6 L487.1,439.9 L488.5,440.3 L490.0,440.7 L491.4,441.2 L492.8,441.6 L494.3,442.1 L495.7,442.5 L497.1,443.0 L498.5,443.5 L499.9,444.1 L501.3,444.6 L502.7,445.2 L504.1,445.7 L505.5,446.3 L506.9,446.9 L508.2,447.5 L509.6,448.2 L511.0,448.8 L512.3,449.5 L513.7,450.1 L515.0,450.8 L516.4,451.5 L517.7,452.2 L519.0,453.0 L520.3,453.7 L521.6,454.4 L522.9,455.2 L524.2,456.0 L525.5,456.8 L526.8,457.6 L528.1,458.4 L529.4,459.2 L530.6,460.0 L531.9,460.8 L533.2,461.7 L534.4,462.6 L535.6,463.4 L536.9,464.3 L538.1,465.2 L539.3,466.1 L540.5,467.0 L541.7,467.9 L542.9,468.8 L544.1,469.8 L545.3,470.7 L546.5,471.7 L547.7,472.6 L548.8,473.6 L550.0,474.6 L551.1,475.5 L552.3,476.5 L553.4,477.5 L554.5,478.5 L555.7,479.5 L556.8,480.5 L557.9,481.5 L559.0,482.6 L560.1,483.6 L561.2,484.6 L562.3,485.6 L563.4,486.7 L564.5,487.7 L565.6,488.8 L566.7,489.8 L567.8,490.8 L568.9,491.9 L569.9,492.9 L571.0,494.0 L572.1,495.1 L573.2,496.1 L574.2,497.2 L575.3,498.2 L576.4,499.3 L577.5,500.3 L578.5,501.4 L579.6,502.5 L580.7,503.5 L581.8,504.6 L582.8,505.6 L583.9,506.7 L585.0,507.7 L586.1,508.8 L587.1,509.8 L588.2,510.9 L589.3,511.9 L590.4,512.9 L591.5,514.0 L592.6,515.0 L593.6,516.0 L594.7,517.1 L595.8,518.1 L596.9,519.1 L598.0,520.1 L599.1,521.2 L600.2,522.2 L601.3,523.2 L602.4,524.2 L603.5,525.3 L604.6,526.3 L605.7,527.3 L606.7,528.4 L607.8,529.4 L608.9,530.4 L610.0,531.5 L611.1,532.5 L612.2,533.5 L613.3,534.6 L614.3,535.6 L615.4,536.7 L616.5,537.7 L617.5,538.8 L618.6,539.9 L619.7,540.9 L620.7,542.0 L621.8,543.1 L622.8,544.2 L623.9,545.3 L624.9,546.4 L626.0,547.5 L627.0,548.6 L628.0,549.7 L629.1,550.9 L630.1,552.0 L631.1,553.1 L632.1,554.3 L633.1,555.5 L634.1,556.6 L635.1,557.8 L636.0,559.0 L637.0,560.1 L638.0,561.3 L638.9,562.5 L639.9,563.7 L640.8,564.9 L641.7,566.1 L642.7,567.3 L643.6,568.5 L644.5,569.7 L645.4,570.9 L646.2,572.1 L647.1,573.4 L648.0,574.6 L648.8,575.8 L649.7,577.1 L650.5,578.3 L651.3,579.5 L652.1,580.8 L652.9,582.0 L653.6,583.2 L654.4,584.5 L655.2,585.8 L655.9,587.0 L656.6,588.3 L657.3,589.6 L658.0,590.9 L658.7,592.2 L659.3,593.5 L660.0,594.8 L660.6,596.1 L661.2,597.5 L661.8,598.8 L662.4,600.2 L663.0,601.6 L663.5,603.0 L664.0,604.4 L664.5,605.9 L665.0,607.3 L665.5,608.8 L666.0,610.3 L666.4,611.8 L666.9,613.3 L667.3,614.9 L667.7,616.4 L668.1,618.0 L668.5,619.5 L668.9,621.1 L669.3,622.6 L669.8,624.1 L670.2,625.7 L670.6,627.2 L671.1,628.7 L671.6,630.2 L672.1,631.6 L672.6,633.0 L673.2,634.4 L673.8,635.8 L674.4,637.2 L675.0,638.5 L675.7,639.7 L676.5,640.9 L677.2,642.1 L678.1,643.3 L678.9,644.3 L679.9,645.4 L680.8,646.3 L681.9,647.2 L683.0,648.1 L684.1,648.8 L685.4,649.5 L686.7,650.0 L688.1,650.5 L689.5,650.9 L691.1,651.1 L692.7,651.2 L694.4,651.2" fill="none" stroke="#0000ff" stroke-width="2.20" stroke-linecap="butt" stroke-linejoin="round"/>
<path d="M464.8,430.3 L466.4,430.4 L467.9,430.4 L469.5,430.6 L471.0,430.7 L472.5,430.9 L474.0,431.0 L475.5,431.2 L477.0,431.5 L478.5,431.7 L480.0,432.0 L481.5,432.3 L483.0,432.6 L484.5,432.9 L485.9,433.3 L487.4,433.7 L488.8,434.1 L490.3,434.5 L491.7,434.9 L493.1,435.4 L494.5,435.8 L495.9,436.3 L497.3,436.8 L498.7,437.4 L500.1,437.9 L501.5,438.5 L502.9,439.0 L504.2,439.6 L505.6,440.2 L507.0,440.9 L508.3,441.5 L509.7,442.2 L511.0,442.8 L512.3,443.5 L513.6,444.2 L515.0,444.9 L516.3,445.7 L517.6,446.4 L518.9,447.2 L520.2,447.9 L521.5,448.7 L522.7,449.5 L524.0,450.3 L525.3,451.1 L526.5,451.9 L527.8,452.8 L529.1,453.6 L530.3,454.5 L531.5,455.4 L532.8,456.2 L534.0,457.1 L535.2,458.0 L536.4,458.9 L537.7,459.8 L538.9,460.7 L540.1,461.7 L541.3,462.6 L542.4,463.5 L543.6,464.5 L544.8,465.4 L546.0,466.4 L547.2,467.4 L548.3,468.3 L549.5,469.3 L550.6,470.3 L551.8,471.3 L552.9,472.3 L554.1,473.3 L555.2,474.3 L556.3,475.3 L557.5,476.3 L558.6,477.3 L559.7,478.3 L560.8,479.3 L561.9,480.3 L563.1,481.4 L564.2,482.4 L565.3,483.4 L566.4,484.5 L567.4,485.5 L568.5,486.5 L569.6,487.6 L570.7,488.6 L571.8,489.7 L572.9,490.7 L573.9,491.8 L575.0,492.8 L576.1,493.9 L577.2,494.9 L578.2,496.0 L579.3,497.1 L580.4,498.1 L581.4,499.2 L582.5,500.3 L583.5,501.4 L584.6,502.4 L585.6,503.5 L586.7,504.6 L587.7,505.7 L588.8,506.7 L589.8,507.8 L590.9,508.9 L591.9,510.0 L593.0,511.1 L594.0,512.1 L595.1,513.2 L596.1,514.3 L597.2,515.4 L598.2,516.5 L599.3,517.6 L600.3,518.6 L601.3,519.7 L602.4,520.8 L603.4,521.9 L604.5,523.0 L605.5,524.1 L606.6,525.1 L607.6,526.2 L608.7,527.3 L609.7,528.4 L610.8,529.5 L611.8,530.5 L612.9,531.6 L613.9,532.7 L615.0,533.8 L616.0,534.9 L617.1,535.9 L618.1,537.0 L619.2,538.1 L620.3,539.1 L621.3,540.2 L622.4,541.3 L623.4,542.4 L624.5,543.5 L625.5,544.5 L626.6,545.6 L627.6,546.7 L628.7,547.8 L629.7,548.9 L630.7,550.0 L631.8,551.1 L632.8,552.2 L633.8,553.3 L634.8,554.4 L635.8,555.6 L636.8,556.7 L637.8,557.8 L638.8,559.0 L639.8,560.1 L640.8,561.3 L641.7,562.5 L642.7,563.6 L643.6,564.8 L644.6,566.0 L645.5,567.2 L646.4,568.4 L647.3,569.6 L648.3,570.8 L649.2,572.0 L650.1,573.2 L651.0,574.4 L652.0,575.6 L652.9,576.8 L653.8,577.9 L654.8,579.1 L655.7,580.3 L656.6,581.5 L657.5,582.7 L658.4,583.9 L659.3,585.0 L660.2,586.2 L661.1,587.5 L661.9,588.7 L662.7,589.9 L663.5,591.1 L664.3,592.4 L665.0,593.7 L665.7,595.0 L666.4,596.3 L667.0,597.6 L667.7,598.9 L668.2,600.3 L668.8,601.7 L669.3,603.1 L669.8,604.5 L670.3,605.9 L670.8,607.3 L671.3,608.8 L671.7,610.3 L672.1,611.8 L672.5,613.3 L672.9,614.8 L673.3,616.3 L673.7,617.8 L674.1,619.4 L674.6,620.9 L675.0,622.4 L675.4,623.9 L675.8,625.4 L676.3,626.9 L676.7,628.4 L677.2,629.8 L677.7,631.3 L678.3,632.7 L678.8,634.1 L679.4,635.4 L680.1,636.8 L680.7,638.0 L681.4,639.3 L682.2,640.5 L683.0,641.7 L683.8,642.8 L684.8,643.9 L685.7,645.0 L686.7,646.0 L687.8,646.9 L688.9,647.8 L690.1,648.6 L691.3,649.4 L692.6,650.0 L693.9,650.7 L695.3,651.2 L696.7,651.5 L698.1,651.5 L699.6,651.5 L701.1,651.5 L702.6,651.5 L704.2,651.5 L705.8,651.5 L707.4,651.5 L709.0,651.5 L710.7,651.5 L712.3,651.5 L714.0,651.2" fill="none" stroke="#9c612e" stroke-width="2.20" stroke-linecap="butt" stroke-linejoin="round"/>
<path d="M464.8,396.8 L466.3,396.9 L467.9,397.1 L469.4,397.3 L470.9,397.5 L472.4,397.8 L473.9,398.0 L475.4,398.3 L476.9,398.6 L478.3,399.0 L479.8,399.3 L481.2,399.7 L482.7,400.1 L484.1,400.6 L485.5,401.0 L487.0,401.5 L488.4,402.0 L489.8,402.5 L491.1,403.0 L492.5,403.6 L493.9,404.2 L495.2,404.8 L496.6,405.4 L497.9,406.0 L499.3,406.7 L500.6,407.3 L501.9,408.0 L503.2,408.7 L504.5,409.5 L505.8,410.2 L507.1,411.0 L508.4,411.7 L509.7,412.5 L510.9,413.3 L512.2,414.1 L513.4,415.0 L514.7,415.8 L515.9,416.7 L517.1,417.6 L518.3,418.5 L519.5,419.4 L520.7,420.3 L521.9,421.2 L523.1,422.2 L524.3,423.1 L525.5,424.1 L526.6,425.1 L527.8,426.0 L528.9,427.0 L530.1,428.1 L531.2,429.1 L532.3,430.1 L533.5,431.1 L534.6,432.2 L535.7,433.2 L536.8,434.3 L537.9,435.4 L539.0,436.4 L540.0,437.5 L541.1,438.6 L542.2,439.7 L543.2,440.8 L544.3,441.9 L545.3,443.1 L546.4,444.2 L547.4,445.3 L548.4,446.4 L549.5,447.6 L550.5,448.7 L551.5,449.8 L552.5,451.0 L553.5,452.1 L554.5,453.3 L555.5,454.4 L556.5,455.6 L557.4,456.7 L558.4,457.9 L559.4,459.1 L560.3,460.2 L561.3,461.4 L562.2,462.6 L563.2,463.7 L564.1,464.9 L565.1,466.1 L566.0,467.3 L566.9,468.5 L567.9,469.6 L568.8,470.8 L569.7,472.0 L570.6,473.2 L571.6,474.4 L572.5,475.6 L573.4,476.8 L574.3,478.0 L575.2,479.1 L576.1,480.3 L577.0,481.5 L577.9,482.7 L578.8,483.9 L579.7,485.1 L580.6,486.3 L581.5,487.5 L582.4,488.7 L583.3,489.9 L584.2,491.1 L585.1,492.3 L586.0,493.5 L586.9,494.7 L587.8,495.9 L588.7,497.1 L589.6,498.3 L590.5,499.5 L591.4,500.7 L592.3,501.9 L593.2,503.1 L594.1,504.3 L595.0,505.5 L595.9,506.7 L596.8,507.9 L597.7,509.1 L598.6,510.2 L599.6,511.4 L600.5,512.6 L601.4,513.8 L602.3,515.0 L603.3,516.2 L604.2,517.4 L605.1,518.5 L606.0,519.7 L607.0,520.9 L607.9,522.1 L608.9,523.3 L609.8,524.4 L610.8,525.6 L611.7,526.8 L612.6,528.0 L613.6,529.1 L614.5,530.3 L615.5,531.5 L616.5,532.7 L617.4,533.8 L618.4,535.0 L619.3,536.2 L620.3,537.3 L621.2,538.5 L622.2,539.7 L623.2,540.8 L624.1,542.0 L625.1,543.2 L626.0,544.4 L627.0,545.5 L628.0,546.7 L628.9,547.9 L629.9,549.0 L630.9,550.2 L631.8,551.4 L632.8,552.6 L633.7,553.7 L634.7,554.9 L635.7,556.1 L636.6,557.3 L637.6,558.4 L638.5,559.6 L639.5,560.8 L640.4,562.0 L641.4,563.1 L642.3,564.3 L643.3,565.5 L644.2,566.7 L645.2,567.9 L646.1,569.1 L647.1,570.2 L648.0,571.4 L649.0,572.6 L649.9,573.8 L650.9,575.0 L651.8,576.1 L652.8,577.3 L653.7,578.5 L654.7,579.6 L655.7,580.8 L656.6,581.9 L657.6,583.1 L658.6,584.2 L659.6,585.4 L660.6,586.5 L661.6,587.6 L662.6,588.7 L663.6,589.9 L664.6,591.0 L665.6,592.1 L666.7,593.1 L667.7,594.2 L668.8,595.3 L669.8,596.3 L670.9,597.4 L672.0,598.4 L673.0,599.5 L674.1,600.5 L675.2,601.5 L676.3,602.5 L677.5,603.5 L678.6,604.5 L679.7,605.5 L680.8,606.5 L682.0,607.5 L683.1,608.5 L684.2,609.4 L685.4,610.4 L686.5,611.4 L687.7,612.4 L688.8,613.3 L690.0,614.3 L691.1,615.3 L692.2,616.3 L693.4,617.3 L694.5,618.3 L695.7,619.2 L696.8,620.2 L697.9,621.2 L699.1,622.3 L700.2,623.3 L701.3,624.3 L702.4,625.3 L703.5,626.4 L704.6,627.4 L705.7,628.5 L706.8,629.5 L707.9,630.6 L709.0,631.7 L710.1,632.8 L711.1,633.9 L712.2,635.0 L713.3,636.1 L714.3,637.2 L715.4,638.2 L716.5,639.3 L717.6,640.3 L718.7,641.3 L719.8,642.3 L720.9,643.3 L722.1,644.2 L723.2,645.1 L724.4,646.0 L725.6,646.8 L726.8,647.5 L728.1,648.2 L729.4,648.9 L730.7,649.5 L732.0,650.0 L733.4,650.5 L734.8,650.9 L736.3,651.3 L737.7,651.5 L739.2,651.5 L740.7,651.5 L742.2,651.5 L743.8,651.5 L745.3,651.5 L746.9,651.5 L748.5,651.5 L750.0,651.5 L751.6,651.5 L753.2,651.2" fill="none" stroke="#ff0000" stroke-width="2.20" stroke-linecap="butt" stroke-linejoin="round"/>
<rect x="65.00" y="733.80" width="297.90" height="297.70" fill="none" stroke="#111111" stroke-width="1.70"/>
<line x1="65.00" y1="1031.50" x2="65.00" y2="1039.30" stroke="#111111" stroke-width="1.70"/>
<text x="65.00" y="1054.40" font-size="10.00" text-anchor="middle" font-weight="bold" font-style="normal" fill="#000" >0</text>
<line x1="102.24" y1="1031.50" x2="102.24" y2="1039.30" stroke="#111111" stroke-width="1.70"/>
<text x="102.24" y="1054.40" font-size="10.00" text-anchor="middle" font-weight="bold" font-style="normal" fill="#000" >2</text>
<line x1="139.47" y1="1031.50" x2="139.47" y2="1039.30" stroke="#111111" stroke-width="1.70"/>
<text x="139.47" y="1054.40" font-size="10.00" text-anchor="middle" font-weight="bold" font-style="normal" fill="#000" >4</text>
<line x1="176.71" y1="1031.50" x2="176.71" y2="1039.30" stroke="#111111" stroke-width="1.70"/>
<text x="176.71" y="1054.40" font-size="10.00" text-anchor="middle" font-weight="bold" font-style="normal" fill="#000" >6</text>
<line x1="213.95" y1="1031.50" x2="213.95" y2="1039.30" stroke="#111111" stroke-width="1.70"/>
<text x="213.95" y="1054.40" font-size="10.00" text-anchor="middle" font-weight="bold" font-style="normal" fill="#000" >8</text>
<line x1="251.19" y1="1031.50" x2="251.19" y2="1039.30" stroke="#111111" stroke-width="1.70"/>
<text x="251.19" y="1054.40" font-size="10.00" text-anchor="middle" font-weight="bold" font-style="normal" fill="#000" >10</text>
<line x1="288.42" y1="1031.50" x2="288.42" y2="1039.30" stroke="#111111" stroke-width="1.70"/>
<text x="288.42" y="1054.40" font-size="10.00" text-anchor="middle" font-weight="bold" font-style="normal" fill="#000" >12</text>
<line x1="325.66" y1="1031.50" x2="325.66" y2="1039.30" stroke="#111111" stroke-width="1.70"/>
<text x="325.66" y="1054.40" font-size="10.00" text-anchor="middle" font-weight="bold" font-style="normal" fill="#000" >14</text>
<line x1="362.90" y1="1031.50" x2="362.90" y2="1039.30" stroke="#111111" stroke-width="1.70"/>
<text x="362.90" y="1054.40" font-size="10.00" text-anchor="middle" font-weight="bold" font-style="normal" fill="#000" >16</text>
<line x1="57.20" y1="1031.50" x2="65.00" y2="1031.50" stroke="#111111" stroke-width="1.70"/>
<text x="52.30" y="1035.65" font-size="10.00" text-anchor="end" font-weight="bold" font-style="normal" fill="#000" >0</text>
<line x1="57.20" y1="981.88" x2="65.00" y2="981.88" stroke="#111111" stroke-width="1.70"/>
<text x="52.30" y="986.03" font-size="10.00" text-anchor="end" font-weight="bold" font-style="normal" fill="#000" >0.5</text>
<line x1="57.20" y1="932.27" x2="65.00" y2="932.27" stroke="#111111" stroke-width="1.70"/>
<text x="52.30" y="936.42" font-size="10.00" text-anchor="end" font-weight="bold" font-style="normal" fill="#000" >1</text>
<line x1="57.20" y1="882.65" x2="65.00" y2="882.65" stroke="#111111" stroke-width="1.70"/>
<text x="52.30" y="886.80" font-size="10.00" text-anchor="end" font-weight="bold" font-style="normal" fill="#000" >1.5</text>
<line x1="57.20" y1="833.03" x2="65.00" y2="833.03" stroke="#111111" stroke-width="1.70"/>
<text x="52.30" y="837.18" font-size="10.00" text-anchor="end" font-weight="bold" font-style="normal" fill="#000" >2</text>
<line x1="57.20" y1="783.42" x2="65.00" y2="783.42" stroke="#111111" stroke-width="1.70"/>
<text x="52.30" y="787.57" font-size="10.00" text-anchor="end" font-weight="bold" font-style="normal" fill="#000" >2.5</text>
<line x1="57.20" y1="733.80" x2="65.00" y2="733.80" stroke="#111111" stroke-width="1.70"/>
<text x="52.30" y="737.95" font-size="10.00" text-anchor="end" font-weight="bold" font-style="normal" fill="#000" >3</text>
<rect x="87.40" y="755.50" width="104.80" height="88.70" fill="#fff" stroke="#555" stroke-width="1"/>
<text x="139.20" y="769.90" font-size="11.00" text-anchor="middle" font-weight="bold" font-style="normal" fill="#000" >PSRJ1614-2330</text>
<line x1="91.30" y1="780.50" x2="140.30" y2="780.50" stroke="#006633" stroke-width="2.2"/>
<text x="144.20" y="783.88" font-size="9.82" text-anchor="start" font-weight="normal" font-style="normal" fill="#000" stroke="#000" stroke-width="0.4">model 1</text>
<line x1="91.30" y1="793.80" x2="140.30" y2="793.80" stroke="#0000ff" stroke-width="2.2"/>
<text x="144.20" y="797.18" font-size="9.82" text-anchor="start" font-weight="normal" font-style="normal" fill="#000" stroke="#000" stroke-width="0.4">model 2</text>
<line x1="91.30" y1="807.10" x2="140.30" y2="807.10" stroke="#9c612e" stroke-width="2.2"/>
<text x="144.20" y="810.48" font-size="9.82" text-anchor="start" font-weight="normal" font-style="normal" fill="#000" stroke="#000" stroke-width="0.4">model 3</text>
<line x1="91.30" y1="820.40" x2="140.30" y2="820.40" stroke="#ff0000" stroke-width="2.2"/>
<text x="144.20" y="823.78" font-size="9.82" text-anchor="start" font-weight="normal" font-style="normal" fill="#000" stroke="#000" stroke-width="0.4">model 4</text>
<polygon points="115.80,828.90 116.98,832.07 120.37,832.22 117.72,834.32 118.62,837.58 115.80,835.72 112.98,837.58 113.88,834.32 111.23,832.22 114.62,832.07" fill="#000"/>
<text x="144.20" y="837.08" font-size="9.82" text-anchor="start" font-weight="normal" font-style="normal" fill="#000" stroke="#000" stroke-width="0.4">observed</text>
<g stroke="#808080" stroke-width="1.3" fill="none"><line x1="269.6" y1="836.1" x2="344.6" y2="836.1"/><line x1="269.6" y1="831.1" x2="269.6" y2="841"/><line x1="344.6" y1="831.1" x2="344.6" y2="841"/></g>
<path d="M65.0,1031.3 L66.5,1031.4 L68.0,1031.5 L69.5,1031.6 L71.0,1031.6 L72.5,1031.6 L74.0,1031.6 L75.5,1031.6 L77.0,1031.6 L78.5,1031.6 L80.0,1031.6 L81.5,1031.6 L83.0,1031.6 L84.5,1031.6 L86.0,1031.5 L87.5,1031.4 L89.1,1031.3 L90.6,1031.2 L92.1,1031.0 L93.6,1030.9 L95.1,1030.7 L96.6,1030.5 L98.1,1030.3 L99.6,1030.1 L101.1,1029.8 L102.6,1029.6 L104.1,1029.3 L105.6,1029.0 L107.1,1028.8 L108.6,1028.4 L110.1,1028.1 L111.6,1027.8 L113.1,1027.4 L114.6,1027.0 L116.0,1026.7 L117.5,1026.3 L119.0,1025.8 L120.4,1025.4 L121.9,1025.0 L123.3,1024.5 L124.8,1024.0 L126.2,1023.5 L127.6,1023.0 L129.0,1022.5 L130.4,1022.0 L131.8,1021.4 L133.2,1020.9 L134.6,1020.3 L136.0,1019.7 L137.4,1019.1 L138.8,1018.4 L140.1,1017.8 L141.5,1017.2 L142.8,1016.5 L144.1,1015.8 L145.4,1015.1 L146.7,1014.4 L148.0,1013.6 L149.3,1012.9 L150.6,1012.1 L151.9,1011.4 L153.1,1010.6 L154.4,1009.8 L155.7,1009.0 L156.9,1008.2 L158.1,1007.3 L159.3,1006.5 L160.6,1005.6 L161.8,1004.7 L163.0,1003.9 L164.1,1003.0 L165.3,1002.1 L166.5,1001.1 L167.7,1000.2 L168.8,999.3 L170.0,998.3 L171.1,997.4 L172.3,996.4 L173.4,995.4 L174.5,994.4 L175.6,993.4 L176.7,992.4 L177.8,991.4 L178.9,990.4 L180.0,989.3 L181.1,988.3 L182.2,987.2 L183.2,986.2 L184.3,985.1 L185.4,984.0 L186.4,982.9 L187.4,981.8 L188.5,980.7 L189.5,979.6 L190.5,978.5 L191.6,977.4 L192.6,976.2 L193.6,975.1 L194.6,974.0 L195.6,972.8 L196.6,971.7 L197.6,970.5 L198.6,969.3 L199.5,968.2 L200.5,967.0 L201.5,965.8 L202.4,964.6 L203.4,963.5 L204.3,962.3 L205.3,961.1 L206.2,959.9 L207.2,958.7 L208.1,957.5 L209.1,956.2 L210.0,955.0 L210.9,953.8 L211.8,952.6 L212.8,951.4 L213.7,950.2 L214.6,948.9 L215.5,947.7 L216.4,946.5 L217.3,945.3 L218.2,944.0 L219.1,942.8 L220.0,941.6 L220.9,940.3 L221.8,939.1 L222.6,937.9 L223.5,936.6 L224.4,935.4 L225.3,934.2 L226.1,932.9 L227.0,931.7 L227.9,930.5 L228.8,929.2 L229.6,928.0 L230.5,926.8 L231.4,925.5 L232.2,924.3 L233.1,923.1 L233.9,921.8 L234.8,920.6 L235.7,919.4 L236.5,918.1 L237.4,916.9 L238.2,915.7 L239.1,914.4 L239.9,913.2 L240.8,912.0 L241.7,910.7 L242.5,909.5 L243.4,908.3 L244.2,907.0 L245.1,905.8 L245.9,904.6 L246.8,903.3 L247.6,902.1 L248.5,900.9 L249.4,899.7 L250.2,898.4 L251.1,897.2 L252.0,896.0 L252.8,894.8 L253.7,893.5 L254.6,892.3 L255.4,891.1 L256.3,889.9 L257.2,888.7 L258.0,887.5 L258.9,886.2 L259.8,885.0 L260.7,883.8 L261.6,882.6 L262.5,881.4 L263.4,880.2 L264.3,879.0 L265.1,877.8 L266.1,876.6 L267.0,875.4 L267.9,874.2 L268.8,873.0 L269.7,871.8 L270.6,870.6 L271.5,869.4 L272.5,868.2 L273.4,867.0 L274.3,865.8 L275.3,864.7 L276.2,863.5 L277.1,862.3 L278.1,861.1 L279.0,859.9 L280.0,858.8 L281.0,857.6 L281.9,856.4 L282.9,855.2 L283.8,854.1 L284.8,852.9 L285.8,851.7 L286.7,850.6 L287.7,849.4 L288.6,848.2 L289.6,847.1 L290.6,845.9 L291.5,844.7 L292.5,843.6 L293.4,842.4 L294.4,841.2 L295.4,840.0 L296.3,838.9 L297.2,837.7 L298.2,836.5 L299.1,835.4 L300.1,834.2 L301.0,833.0" fill="none" stroke="#006633" stroke-width="2.20" stroke-linecap="butt" stroke-linejoin="round"/>
<path d="M65.0,1031.3 L66.5,1031.4 L68.0,1031.5 L69.5,1031.5 L71.0,1031.6 L72.5,1031.6 L74.0,1031.6 L75.5,1031.6 L77.0,1031.6 L78.6,1031.6 L80.1,1031.6 L81.6,1031.6 L83.1,1031.6 L84.6,1031.6 L86.1,1031.6 L87.6,1031.5 L89.1,1031.4 L90.7,1031.3 L92.2,1031.2 L93.7,1031.1 L95.2,1031.0 L96.7,1030.9 L98.2,1030.7 L99.7,1030.6 L101.2,1030.4 L102.7,1030.2 L104.2,1030.1 L105.7,1029.9 L107.2,1029.6 L108.7,1029.4 L110.2,1029.2 L111.7,1028.9 L113.2,1028.7 L114.7,1028.4 L116.2,1028.1 L117.7,1027.8 L119.2,1027.5 L120.6,1027.2 L122.1,1026.8 L123.6,1026.5 L125.0,1026.1 L126.5,1025.7 L127.9,1025.3 L129.4,1024.9 L130.8,1024.5 L132.3,1024.1 L133.7,1023.6 L135.2,1023.2 L136.6,1022.7 L138.0,1022.2 L139.4,1021.7 L140.8,1021.2 L142.2,1020.6 L143.6,1020.1 L145.0,1019.5 L146.4,1019.0 L147.8,1018.4 L149.2,1017.8 L150.6,1017.2 L151.9,1016.5 L153.3,1015.9 L154.6,1015.2 L156.0,1014.6 L157.3,1013.9 L158.7,1013.2 L160.0,1012.5 L161.3,1011.8 L162.6,1011.0 L163.9,1010.3 L165.2,1009.5 L166.5,1008.8 L167.8,1008.0 L169.1,1007.2 L170.4,1006.4 L171.7,1005.6 L172.9,1004.8 L174.2,1004.0 L175.4,1003.1 L176.7,1002.3 L177.9,1001.4 L179.2,1000.5 L180.4,999.6 L181.6,998.7 L182.8,997.8 L184.0,996.9 L185.2,996.0 L186.4,995.1 L187.6,994.1 L188.8,993.2 L189.9,992.2 L191.1,991.2 L192.3,990.3 L193.4,989.3 L194.6,988.3 L195.7,987.3 L196.8,986.3 L197.9,985.3 L199.1,984.2 L200.2,983.2 L201.3,982.2 L202.4,981.1 L203.4,980.1 L204.5,979.0 L205.6,977.9 L206.6,976.9 L207.7,975.8 L208.7,974.7 L209.8,973.6 L210.8,972.5 L211.8,971.4 L212.9,970.3 L213.9,969.2 L214.9,968.0 L215.9,966.9 L216.9,965.8 L217.9,964.6 L218.8,963.5 L219.8,962.4 L220.8,961.2 L221.8,960.0 L222.7,958.9 L223.7,957.7 L224.6,956.5 L225.6,955.4 L226.5,954.2 L227.5,953.0 L228.4,951.8 L229.3,950.7 L230.3,949.5 L231.2,948.3 L232.1,947.1 L233.0,945.9 L234.0,944.7 L234.9,943.5 L235.8,942.3 L236.7,941.1 L237.6,939.9 L238.5,938.7 L239.4,937.4 L240.3,936.2 L241.2,935.0 L242.1,933.8 L243.0,932.6 L243.9,931.4 L244.8,930.2 L245.7,928.9 L246.6,927.7 L247.5,926.5 L248.4,925.3 L249.3,924.1 L250.2,922.8 L251.1,921.6 L252.0,920.4 L252.9,919.2 L253.8,918.0 L254.7,916.8 L255.6,915.6 L256.5,914.4 L257.4,913.1 L258.3,911.9 L259.2,910.7 L260.1,909.5 L261.0,908.3 L262.0,907.1 L262.9,905.9 L263.8,904.7 L264.7,903.6 L265.7,902.4 L266.6,901.2 L267.5,900.0 L268.5,898.8 L269.4,897.6 L270.4,896.5 L271.3,895.3 L272.3,894.1 L273.2,893.0 L274.2,891.8 L275.1,890.6 L276.1,889.5 L277.0,888.3 L278.0,887.1 L279.0,886.0 L279.9,884.8 L280.9,883.7 L281.9,882.5 L282.8,881.3 L283.8,880.2 L284.8,879.0 L285.7,877.9 L286.7,876.7 L287.7,875.5 L288.6,874.4 L289.6,873.2 L290.5,872.1 L291.5,870.9 L292.5,869.7 L293.4,868.6 L294.4,867.4 L295.3,866.2 L296.3,865.1 L297.2,863.9 L298.2,862.7 L299.1,861.5 L300.1,860.4 L301.0,859.2 L301.9,858.0 L302.9,856.8 L303.8,855.6 L304.7,854.4 L305.7,853.2 L306.6,852.0 L307.5,850.8 L308.4,849.6 L309.3,848.4" fill="none" stroke="#0000ff" stroke-width="2.20" stroke-linecap="butt" stroke-linejoin="round"/>
<path d="M65.0,1031.3 L66.5,1031.4 L68.0,1031.5 L69.5,1031.5 L71.0,1031.6 L72.5,1031.6 L74.0,1031.6 L75.6,1031.6 L77.1,1031.6 L78.6,1031.6 L80.1,1031.6 L81.6,1031.6 L83.1,1031.6 L84.6,1031.6 L86.1,1031.6 L87.7,1031.5 L89.2,1031.4 L90.7,1031.3 L92.2,1031.2 L93.7,1031.1 L95.2,1031.0 L96.7,1030.9 L98.2,1030.7 L99.7,1030.6 L101.2,1030.4 L102.8,1030.2 L104.3,1030.0 L105.8,1029.8 L107.3,1029.6 L108.7,1029.4 L110.2,1029.1 L111.7,1028.9 L113.2,1028.6 L114.7,1028.3 L116.2,1028.0 L117.7,1027.7 L119.1,1027.4 L120.6,1027.1 L122.1,1026.7 L123.5,1026.4 L125.0,1026.0 L126.5,1025.6 L127.9,1025.2 L129.4,1024.8 L130.8,1024.4 L132.3,1024.0 L133.7,1023.5 L135.1,1023.0 L136.5,1022.6 L138.0,1022.1 L139.4,1021.6 L140.8,1021.0 L142.2,1020.5 L143.6,1019.9 L145.0,1019.4 L146.4,1018.8 L147.8,1018.2 L149.1,1017.6 L150.5,1017.0 L151.9,1016.3 L153.2,1015.7 L154.6,1015.0 L155.9,1014.4 L157.3,1013.7 L158.6,1013.0 L159.9,1012.3 L161.3,1011.5 L162.6,1010.8 L163.9,1010.1 L165.2,1009.3 L166.5,1008.5 L167.8,1007.8 L169.1,1007.0 L170.3,1006.2 L171.6,1005.3 L172.9,1004.5 L174.1,1003.7 L175.4,1002.8 L176.6,1002.0 L177.9,1001.1 L179.1,1000.2 L180.3,999.3 L181.6,998.4 L182.8,997.5 L184.0,996.6 L185.2,995.7 L186.4,994.8 L187.6,993.8 L188.7,992.9 L189.9,991.9 L191.1,990.9 L192.2,990.0 L193.4,989.0 L194.5,988.0 L195.7,987.0 L196.8,986.0 L197.9,984.9 L199.0,983.9 L200.2,982.9 L201.3,981.8 L202.3,980.8 L203.4,979.7 L204.5,978.7 L205.6,977.6 L206.7,976.5 L207.7,975.5 L208.8,974.4 L209.8,973.3 L210.8,972.2 L211.9,971.1 L212.9,970.0 L213.9,968.9 L214.9,967.7 L215.9,966.6 L216.9,965.5 L217.9,964.3 L218.9,963.2 L219.9,962.1 L220.9,960.9 L221.8,959.8 L222.8,958.6 L223.7,957.4 L224.7,956.3 L225.7,955.1 L226.6,953.9 L227.5,952.7 L228.5,951.6 L229.4,950.4 L230.3,949.2 L231.3,948.0 L232.2,946.8 L233.1,945.6 L234.0,944.4 L234.9,943.2 L235.8,942.0 L236.7,940.8 L237.6,939.6 L238.5,938.4 L239.4,937.1 L240.3,935.9 L241.2,934.7 L242.1,933.5 L243.0,932.3 L243.9,931.0 L244.7,929.8 L245.6,928.6 L246.5,927.4 L247.4,926.1 L248.3,924.9 L249.1,923.7 L250.0,922.4 L250.9,921.2 L251.8,920.0 L252.6,918.7 L253.5,917.5 L254.4,916.3 L255.3,915.0 L256.1,913.8 L257.0,912.6 L257.9,911.3 L258.8,910.1 L259.7,908.9 L260.5,907.7 L261.4,906.4 L262.3,905.2 L263.2,904.0 L264.1,902.7 L265.0,901.5 L265.9,900.3 L266.7,899.1 L267.6,897.9 L268.5,896.6 L269.4,895.4 L270.3,894.2 L271.2,893.0 L272.1,891.8 L273.1,890.6 L274.0,889.4 L274.9,888.2 L275.8,887.0 L276.7,885.8 L277.7,884.6 L278.6,883.4 L279.5,882.3 L280.5,881.1 L281.4,879.9 L282.4,878.7 L283.3,877.6 L284.3,876.4 L285.2,875.2 L286.2,874.0 L287.1,872.9 L288.1,871.7 L289.0,870.5 L290.0,869.4 L291.0,868.2 L291.9,867.0 L292.9,865.9 L293.8,864.7 L294.8,863.5 L295.7,862.4 L296.7,861.2 L297.6,860.0 L298.6,858.9 L299.5,857.7 L300.5,856.5 L301.4,855.3 L302.4,854.1 L303.3,853.0 L304.2,851.8 L305.1,850.6 L306.1,849.4 L307.0,848.2 L307.9,847.0 L308.8,845.8 L309.7,844.5 L310.6,843.3 L311.5,842.1 L312.4,840.9 L313.2,839.6 L314.1,838.4 L314.9,837.2 L315.8,835.9" fill="none" stroke="#9c612e" stroke-width="2.20" stroke-linecap="butt" stroke-linejoin="round"/>
<path d="M65.0,1031.3 L66.5,1031.3 L68.0,1031.4 L69.5,1031.4 L71.0,1031.4 L72.5,1031.4 L74.0,1031.4 L75.5,1031.4 L77.0,1031.4 L78.5,1031.4 L80.0,1031.4 L81.5,1031.4 L83.1,1031.3 L84.6,1031.3 L86.1,1031.2 L87.6,1031.2 L89.1,1031.1 L90.6,1031.0 L92.1,1031.0 L93.6,1030.9 L95.1,1030.8 L96.6,1030.6 L98.1,1030.5 L99.6,1030.4 L101.1,1030.2 L102.6,1030.1 L104.1,1029.9 L105.6,1029.7 L107.1,1029.5 L108.6,1029.3 L110.1,1029.0 L111.6,1028.8 L113.1,1028.5 L114.5,1028.3 L116.0,1028.0 L117.5,1027.7 L118.9,1027.4 L120.4,1027.0 L121.9,1026.7 L123.3,1026.3 L124.8,1025.9 L126.2,1025.5 L127.6,1025.1 L129.1,1024.6 L130.5,1024.2 L131.9,1023.7 L133.4,1023.2 L134.8,1022.7 L136.2,1022.2 L137.6,1021.6 L139.0,1021.0 L140.4,1020.5 L141.8,1019.9 L143.1,1019.3 L144.5,1018.6 L145.9,1018.0 L147.2,1017.4 L148.6,1016.7 L149.9,1016.0 L151.3,1015.3 L152.6,1014.6 L153.9,1013.9 L155.3,1013.1 L156.6,1012.4 L157.9,1011.6 L159.2,1010.9 L160.5,1010.1 L161.8,1009.3 L163.0,1008.5 L164.3,1007.6 L165.6,1006.8 L166.8,1006.0 L168.0,1005.1 L169.3,1004.2 L170.5,1003.4 L171.7,1002.5 L172.9,1001.6 L174.1,1000.7 L175.3,999.7 L176.5,998.8 L177.7,997.9 L178.8,996.9 L180.0,996.0 L181.2,995.0 L182.3,994.0 L183.4,993.1 L184.6,992.1 L185.7,991.1 L186.8,990.1 L187.9,989.0 L189.0,988.0 L190.1,987.0 L191.2,986.0 L192.3,984.9 L193.3,983.9 L194.4,982.8 L195.5,981.7 L196.5,980.7 L197.6,979.6 L198.6,978.5 L199.6,977.4 L200.7,976.3 L201.7,975.2 L202.7,974.1 L203.7,973.0 L204.7,971.8 L205.7,970.7 L206.7,969.6 L207.7,968.4 L208.7,967.3 L209.7,966.2 L210.7,965.0 L211.6,963.9 L212.6,962.7 L213.5,961.5 L214.5,960.4 L215.4,959.2 L216.4,958.0 L217.3,956.8 L218.3,955.7 L219.2,954.5 L220.1,953.3 L221.1,952.1 L222.0,950.9 L222.9,949.7 L223.8,948.5 L224.7,947.3 L225.6,946.1 L226.5,944.9 L227.4,943.7 L228.3,942.5 L229.2,941.3 L230.1,940.1 L231.0,938.9 L231.9,937.6 L232.8,936.4 L233.7,935.2 L234.5,934.0 L235.4,932.8 L236.3,931.5 L237.1,930.3 L238.0,929.1 L238.9,927.8 L239.7,926.6 L240.6,925.4 L241.5,924.1 L242.3,922.9 L243.2,921.7 L244.0,920.4 L244.9,919.2 L245.7,918.0 L246.6,916.7 L247.4,915.5 L248.3,914.2 L249.1,913.0 L250.0,911.7 L250.8,910.5 L251.6,909.2 L252.5,908.0 L253.3,906.7 L254.2,905.5 L255.0,904.2 L255.8,903.0 L256.7,901.7 L257.5,900.5 L258.3,899.2 L259.2,898.0 L260.0,896.7 L260.8,895.4 L261.6,894.2 L262.4,892.9 L263.3,891.6 L264.1,890.4 L264.8,889.1 L265.6,887.8 L266.4,886.5 L267.2,885.2 L268.0,883.9 L268.8,882.6 L269.5,881.3 L270.3,880.1 L271.1,878.8 L271.8,877.5 L272.6,876.2 L273.4,874.9 L274.2,873.6 L274.9,872.3 L275.7,871.0 L276.5,869.7 L277.3,868.4 L278.1,867.2 L278.9,865.9 L279.7,864.6 L280.5,863.3 L281.3,862.1 L282.1,860.8 L283.0,859.6 L283.8,858.3 L284.6,857.1 L285.5,855.9 L286.4,854.6 L287.2,853.4 L288.1,852.2 L289.0,850.9 L289.8,849.7 L290.7,848.5 L291.6,847.2 L292.4,846.0 L293.3,844.8 L294.2,843.6 L295.0,842.3 L295.9,841.1 L296.8,839.9 L297.6,838.6 L298.5,837.4 L299.3,836.1 L300.2,834.9 L301.0,833.7 L301.9,832.4 L302.8,831.2 L303.6,830.0 L304.5,828.7 L305.3,827.5 L306.2,826.2 L307.1,825.0 L307.9,823.8 L308.8,822.6 L309.7,821.3 L310.6,820.1 L311.4,818.9 L312.3,817.7 L313.2,816.5 L314.1,815.3 L315.0,814.0 L315.9,812.8 L316.8,811.6 L317.7,810.5 L318.6,809.3 L319.6,808.1 L320.5,806.9 L321.4,805.7 L322.3,804.5 L323.3,803.3 L324.2,802.2 L325.2,801.0 L326.1,799.8 L327.0,798.6 L328.0,797.4 L328.9,796.3 L329.8,795.1 L330.8,793.9 L331.7,792.7 L332.7,791.6 L333.6,790.4 L334.5,789.2 L335.5,788.0 L336.4,786.8 L337.3,785.7 L338.2,784.5 L339.2,783.3 L340.1,782.1 L341.0,780.9 L341.9,779.7 L342.8,778.5 L343.7,777.3 L344.6,776.1 L345.5,774.9 L346.3,773.6 L347.2,772.4 L348.1,771.2 L348.9,770.0 L349.8,768.7 L350.6,767.5 L351.5,766.2 L352.3,765.0 L353.1,763.7 L353.9,762.4 L354.7,761.2 L355.5,759.9 L356.3,758.6" fill="none" stroke="#ff0000" stroke-width="2.20" stroke-linecap="butt" stroke-linejoin="round"/>
<line x1="302.3" y1="838.6" x2="311.9" y2="838.6" stroke="#808080" stroke-width="1"/>
<polygon points="306.90,831.20 308.23,834.77 312.04,834.93 309.06,837.30 310.07,840.97 306.90,838.87 303.73,840.97 304.74,837.30 301.76,834.93 305.57,834.77" fill="#000"/>
<rect x="435.70" y="734.00" width="300.80" height="301.10" fill="none" stroke="#111111" stroke-width="1.70"/>
<line x1="435.70" y1="1035.10" x2="435.70" y2="1042.90" stroke="#111111" stroke-width="1.70"/>
<text x="435.70" y="1058.00" font-size="10.00" text-anchor="middle" font-weight="bold" font-style="normal" fill="#000" >0</text>
<line x1="473.30" y1="1035.10" x2="473.30" y2="1042.90" stroke="#111111" stroke-width="1.70"/>
<text x="473.30" y="1058.00" font-size="10.00" text-anchor="middle" font-weight="bold" font-style="normal" fill="#000" >2</text>
<line x1="510.90" y1="1035.10" x2="510.90" y2="1042.90" stroke="#111111" stroke-width="1.70"/>
<text x="510.90" y="1058.00" font-size="10.00" text-anchor="middle" font-weight="bold" font-style="normal" fill="#000" >4</text>
<line x1="548.50" y1="1035.10" x2="548.50" y2="1042.90" stroke="#111111" stroke-width="1.70"/>
<text x="548.50" y="1058.00" font-size="10.00" text-anchor="middle" font-weight="bold" font-style="normal" fill="#000" >6</text>
<line x1="586.10" y1="1035.10" x2="586.10" y2="1042.90" stroke="#111111" stroke-width="1.70"/>
<text x="586.10" y="1058.00" font-size="10.00" text-anchor="middle" font-weight="bold" font-style="normal" fill="#000" >8</text>
<line x1="623.70" y1="1035.10" x2="623.70" y2="1042.90" stroke="#111111" stroke-width="1.70"/>
<text x="623.70" y="1058.00" font-size="10.00" text-anchor="middle" font-weight="bold" font-style="normal" fill="#000" >10</text>
<line x1="661.30" y1="1035.10" x2="661.30" y2="1042.90" stroke="#111111" stroke-width="1.70"/>
<text x="661.30" y="1058.00" font-size="10.00" text-anchor="middle" font-weight="bold" font-style="normal" fill="#000" >12</text>
<line x1="698.90" y1="1035.10" x2="698.90" y2="1042.90" stroke="#111111" stroke-width="1.70"/>
<text x="698.90" y="1058.00" font-size="10.00" text-anchor="middle" font-weight="bold" font-style="normal" fill="#000" >14</text>
<line x1="736.50" y1="1035.10" x2="736.50" y2="1042.90" stroke="#111111" stroke-width="1.70"/>
<text x="736.50" y="1058.00" font-size="10.00" text-anchor="middle" font-weight="bold" font-style="normal" fill="#000" >16</text>
<line x1="427.90" y1="1035.10" x2="435.70" y2="1035.10" stroke="#111111" stroke-width="1.70"/>
<text x="422.70" y="1039.25" font-size="10.00" text-anchor="end" font-weight="bold" font-style="normal" fill="#000" >0</text>
<line x1="427.90" y1="1004.99" x2="435.70" y2="1004.99" stroke="#111111" stroke-width="1.70"/>
<text x="422.70" y="1009.14" font-size="10.00" text-anchor="end" font-weight="bold" font-style="normal" fill="#000" >0.2</text>
<line x1="427.90" y1="974.88" x2="435.70" y2="974.88" stroke="#111111" stroke-width="1.70"/>
<text x="422.70" y="979.03" font-size="10.00" text-anchor="end" font-weight="bold" font-style="normal" fill="#000" >0.4</text>
<line x1="427.90" y1="944.77" x2="435.70" y2="944.77" stroke="#111111" stroke-width="1.70"/>
<text x="422.70" y="948.92" font-size="10.00" text-anchor="end" font-weight="bold" font-style="normal" fill="#000" >0.6</text>
<line x1="427.90" y1="914.66" x2="435.70" y2="914.66" stroke="#111111" stroke-width="1.70"/>
<text x="422.70" y="918.81" font-size="10.00" text-anchor="end" font-weight="bold" font-style="normal" fill="#000" >0.8</text>
<line x1="427.90" y1="884.55" x2="435.70" y2="884.55" stroke="#111111" stroke-width="1.70"/>
<text x="422.70" y="888.70" font-size="10.00" text-anchor="end" font-weight="bold" font-style="normal" fill="#000" >1</text>
<line x1="427.90" y1="854.44" x2="435.70" y2="854.44" stroke="#111111" stroke-width="1.70"/>
<text x="422.70" y="858.59" font-size="10.00" text-anchor="end" font-weight="bold" font-style="normal" fill="#000" >1.2</text>
<line x1="427.90" y1="824.33" x2="435.70" y2="824.33" stroke="#111111" stroke-width="1.70"/>
<text x="422.70" y="828.48" font-size="10.00" text-anchor="end" font-weight="bold" font-style="normal" fill="#000" >1.4</text>
<line x1="427.90" y1="794.22" x2="435.70" y2="794.22" stroke="#111111" stroke-width="1.70"/>
<text x="422.70" y="798.37" font-size="10.00" text-anchor="end" font-weight="bold" font-style="normal" fill="#000" >1.6</text>
<line x1="427.90" y1="764.11" x2="435.70" y2="764.11" stroke="#111111" stroke-width="1.70"/>
<text x="422.70" y="768.26" font-size="10.00" text-anchor="end" font-weight="bold" font-style="normal" fill="#000" >1.8</text>
<line x1="427.90" y1="734.00" x2="435.70" y2="734.00" stroke="#111111" stroke-width="1.70"/>
<text x="422.70" y="738.15" font-size="10.00" text-anchor="end" font-weight="bold" font-style="normal" fill="#000" >2</text>
<rect x="463.9" y="744.4" width="80.8" height="51.2" fill="#fff" stroke="#555" stroke-width="1"/>
<line x1="468" y1="768" x2="517.3" y2="768" stroke="#ff0000" stroke-width="2.2"/>
<line x1="468" y1="784.2" x2="517.3" y2="784.2" stroke="#0000ff" stroke-width="2.2"/>
<text x="521.8" y="772" font-size="10.5" font-weight="normal">e<tspan dy="-2.6" font-size="8.5" font-weight="bold">-2</tspan><tspan font-size="8.5" font-family='"Liberation Serif", serif'>λ</tspan></text>
<text x="521.8" y="788.4" font-size="10.5" font-weight="bold">e<tspan dy="-3" font-size="8.5">2</tspan><tspan font-size="8.5" font-weight="normal">ν</tspan></text>
<path d="M435.7,884.6 L437.2,884.6 L438.7,884.6 L440.3,884.6 L441.8,884.6 L443.3,884.6 L444.8,884.5 L446.3,884.5 L447.9,884.4 L449.4,884.3 L450.9,884.3 L452.4,884.2 L453.9,884.1 L455.4,884.0 L456.9,883.9 L458.5,883.7 L460.0,883.6 L461.5,883.5 L463.0,883.3 L464.5,883.1 L466.0,883.0 L467.5,882.8 L469.0,882.6 L470.5,882.4 L472.0,882.2 L473.5,882.0 L475.0,881.7 L476.5,881.5 L477.9,881.3 L479.4,881.0 L480.9,880.7 L482.4,880.5 L483.9,880.2 L485.4,879.9 L486.8,879.6 L488.3,879.3 L489.8,879.0 L491.3,878.6 L492.7,878.3 L494.2,878.0 L495.7,877.6 L497.1,877.2 L498.6,876.9 L500.1,876.5 L501.5,876.1 L503.0,875.7 L504.4,875.3 L505.9,874.9 L507.3,874.5 L508.8,874.1 L510.2,873.6 L511.7,873.2 L513.1,872.7 L514.6,872.3 L516.0,871.8 L517.4,871.3 L518.8,870.8 L520.3,870.3 L521.7,869.8 L523.1,869.3 L524.5,868.8 L526.0,868.3 L527.4,867.8 L528.8,867.2 L530.2,866.7 L531.6,866.1 L533.0,865.6 L534.4,865.0 L535.8,864.4 L537.2,863.8 L538.6,863.2 L540.0,862.6 L541.4,862.0 L542.7,861.4 L544.1,860.8 L545.5,860.2 L546.9,859.5 L548.2,858.9 L549.6,858.2 L551.0,857.6 L552.3,856.9 L553.7,856.2 L555.0,855.6 L556.4,854.9 L557.7,854.2 L559.1,853.5 L560.4,852.8 L561.8,852.1 L563.1,851.4 L564.4,850.6 L565.7,849.9 L567.1,849.2 L568.4,848.4 L569.7,847.7 L571.0,846.9 L572.3,846.1 L573.6,845.4 L574.9,844.6 L576.2,843.8 L577.5,843.0 L578.8,842.2 L580.1,841.4 L581.4,840.6 L582.6,839.8 L583.9,839.0 L585.2,838.1 L586.4,837.3 L587.7,836.5 L588.9,835.6 L590.2,834.8 L591.4,833.9 L592.7,833.0 L593.9,832.2 L595.2,831.3 L596.4,830.4 L597.6,829.5 L598.8,828.7 L600.1,827.8 L601.3,826.9 L602.5,826.0 L603.7,825.1 L604.9,824.1 L606.1,823.2 L607.3,822.3 L608.5,821.4 L609.7,820.5 L610.9,819.6 L612.2,818.7 L613.4,817.7 L614.6,816.8 L615.8,815.9 L617.0,815.0 L618.1,814.0 L619.3,813.1 L620.6,812.2 L621.8,811.3 L623.0,810.4 L624.2,809.4 L625.4,808.5 L626.6,807.6 L627.8,806.7 L629.0,805.8 L630.2,804.9 L631.4,804.0 L632.6,803.1 L633.8,802.2 L635.1,801.3 L636.3,800.4 L637.5,799.6 L638.8,798.7 L640.0,797.9 L641.3,797.0 L642.5,796.2 L643.8,795.4 L645.1,794.6 L646.4,793.8 L647.7,793.1 L649.0,792.3 L650.3,791.6 L651.6,790.9 L653.0,790.3 L654.3,789.6 L655.7,788.9 L657.0,788.3 L658.4,787.7 L659.8,787.0 L661.1,786.4 L662.5,785.8 L663.9,785.1 L665.2,784.5 L666.6,783.9 L668.0,783.2 L669.3,782.6 L670.7,781.9 L672.0,781.3 L673.4,780.6 L674.7,779.9 L676.0,779.2 L677.3,778.4 L678.7,777.7 L680.0,776.9 L681.2,776.1 L682.5,775.3 L683.8,774.4 L685.0,773.5" fill="none" stroke="#ff0000" stroke-width="2.20" stroke-linecap="butt" stroke-linejoin="round"/>
<path d="M435.7,1001.1 L437.2,1001.1 L438.7,1001.1 L440.2,1001.1 L441.7,1001.1 L443.2,1001.1 L444.8,1001.1 L446.3,1001.0 L447.8,1001.0 L449.3,1001.0 L450.8,1001.0 L452.3,1001.0 L453.8,1000.9 L455.3,1000.9 L456.8,1000.9 L458.4,1000.8 L459.9,1000.8 L461.4,1000.8 L462.9,1000.7 L464.4,1000.7 L465.9,1000.7 L467.4,1000.6 L468.9,1000.6 L470.4,1000.5 L471.9,1000.5 L473.5,1000.4 L475.0,1000.4 L476.5,1000.3 L478.0,1000.3 L479.5,1000.2 L481.0,1000.1 L482.5,1000.1 L484.0,1000.0 L485.5,999.9 L487.0,999.9 L488.6,999.8 L490.1,999.7 L491.6,999.7 L493.1,999.6 L494.6,999.5 L496.1,999.4 L497.6,999.3 L499.1,999.2 L500.6,999.2 L502.1,999.1 L503.6,999.0 L505.1,998.9 L506.7,998.8 L508.2,998.7 L509.7,998.6 L511.2,998.5 L512.7,998.4 L514.2,998.3 L515.7,998.1 L517.2,998.0 L518.7,997.9 L520.2,997.8 L521.7,997.7 L523.2,997.6 L524.7,997.4 L526.2,997.3 L527.7,997.2 L529.2,997.0 L530.7,996.9 L532.3,996.8 L533.8,996.6 L535.3,996.5 L536.8,996.4 L538.3,996.2 L539.8,996.1 L541.3,995.9 L542.8,995.8 L544.3,995.6 L545.8,995.5 L547.3,995.3 L548.8,995.1 L550.3,995.0 L551.8,994.8 L553.3,994.7 L554.8,994.5 L556.3,994.3 L557.8,994.1 L559.3,994.0 L560.8,993.8 L562.3,993.6 L563.7,993.4 L565.2,993.2 L566.7,993.0 L568.2,992.9 L569.7,992.7 L571.2,992.5 L572.7,992.3 L574.2,992.1 L575.7,991.9 L577.2,991.7 L578.7,991.4 L580.2,991.2 L581.7,991.0 L583.2,990.8 L584.6,990.6 L586.1,990.4 L587.6,990.2 L589.1,989.9 L590.6,989.7 L592.1,989.5 L593.6,989.3 L595.1,989.0 L596.6,988.8 L598.1,988.6 L599.6,988.4 L601.1,988.2 L602.6,987.9 L604.1,987.7 L605.6,987.5 L607.2,987.3 L608.7,987.1 L610.2,986.9 L611.7,986.7 L613.3,986.5 L614.8,986.3 L616.4,986.1 L617.9,985.8 L619.4,985.6 L620.9,985.3 L622.4,985.1 L623.9,984.8 L625.4,984.5 L626.9,984.1 L628.3,983.7 L629.8,983.3 L631.2,982.9 L632.6,982.4 L633.9,981.8 L635.2,981.2 L636.5,980.6 L637.8,979.9 L639.0,979.2 L640.2,978.3 L641.4,977.5 L642.5,976.6 L643.6,975.6 L644.7,974.6 L645.8,973.6 L646.8,972.5 L647.8,971.4 L648.8,970.2 L649.7,969.0 L650.7,967.8 L651.6,966.6 L652.5,965.3 L653.4,964.0 L654.3,962.8 L655.2,961.5 L656.2,960.3 L657.1,959.0 L658.0,957.8 L659.0,956.6 L659.9,955.5 L661.0,954.4 L662.0,953.3 L663.0,952.3 L664.1,951.4 L665.3,950.5 L666.4,949.7 L667.6,949.0 L668.9,948.3 L670.1,947.8 L671.5,947.3 L672.8,947.0 L674.2,947.0 L675.7,947.0 L677.2,947.0 L678.7,947.0 L680.3,947.0 L682.0,947.3 L683.7,947.8 L685.4,948.5" fill="none" stroke="#0000ff" stroke-width="2.20" stroke-linecap="butt" stroke-linejoin="round"/>
<path d="M214.10,335.80 L212.50,344.30" stroke="#000" stroke-width="1.70" fill="none"/>
<path d="M213.70,337.70 Q215.30,335.70 218.70,336.00" stroke="#000" stroke-width="1.44" fill="none"/>
<text x="222.30" y="342.80" font-size="12.00" font-weight="bold" font-style="italic">(km)</text>
<path d="M566.30,335.50 L564.40,345.20" stroke="#000" stroke-width="1.70" fill="none"/>
<path d="M565.90,337.40 Q567.50,335.40 570.90,335.70" stroke="#000" stroke-width="1.44" fill="none"/>
<text x="573.60" y="342.50" font-size="12.00" font-weight="bold" font-style="italic">(km)</text>
<path d="M206.00,685.90 L204.00,694.80" stroke="#000" stroke-width="1.70" fill="none"/>
<path d="M205.60,687.80 Q207.20,685.80 210.60,686.10" stroke="#000" stroke-width="1.44" fill="none"/>
<text x="213.60" y="693.30" font-size="12.00" font-weight="bold" font-style="italic">(km)</text>
<path d="M596.70,686.30 L594.80,695.60" stroke="#000" stroke-width="1.70" fill="none"/>
<path d="M596.30,688.20 Q597.90,686.20 601.30,686.50" stroke="#000" stroke-width="1.44" fill="none"/>
<text x="605.10" y="693.40" font-size="12.00" font-weight="bold" font-style="italic">(km)</text>
<path d="M200.20,1063.90 L198.60,1072.40" stroke="#000" stroke-width="1.70" fill="none"/>
<path d="M199.80,1065.80 Q201.40,1063.80 204.80,1064.10" stroke="#000" stroke-width="1.44" fill="none"/>
<text x="207.90" y="1070.60" font-size="10.60" font-weight="bold" font-style="italic">(km)</text>
<path d="M571.00,1062.70 L569.00,1071.20" stroke="#000" stroke-width="1.40" fill="none"/>
<path d="M570.60,1064.60 Q572.20,1062.60 575.60,1062.90" stroke="#000" stroke-width="1.19" fill="none"/>
<text x="579.80" y="1070.70" font-size="12.00" font-weight="bold" font-style="normal">(km)</text>
<ellipse cx="41.25" cy="153.25" rx="5.0" ry="3.15" fill="none" stroke="#222" stroke-width="0.95"/><line x1="41.25" y1="150.1" x2="41.25" y2="156.4" stroke="#222" stroke-width="0.9"/>
<text transform="translate(398.60,153.00) rotate(-90)" text-anchor="middle" font-size="12.50">ν</text>
<text transform="translate(13.60,503.50) rotate(-90)" text-anchor="middle" font-size="12.60"><tspan font-size="11">ρ</tspan> <tspan font-weight="bold">(g cm<tspan dy="-4" font-size="8.4">-3</tspan><tspan dy="4">)</tspan></tspan></text>
<text transform="translate(389.00,503.00) rotate(-90)" text-anchor="middle" font-size="13.40"><tspan font-weight="bold" font-style="italic">P</tspan> (dyne cm<tspan dy="-4.5" font-size="8.7">-2</tspan><tspan dy="4.5">)</tspan></text>
<text transform="translate(32.20,882.30) rotate(-90)" text-anchor="middle" font-size="11.50"><tspan font-weight="bold" font-style="italic">M</tspan> (<tspan font-style="italic" font-weight="bold">M</tspan><tspan dx="6.3">)</tspan></text>
<circle cx="31.3" cy="871.9" r="2.7" fill="none" stroke="#444" stroke-width="0.9"/>
<text transform="translate(403.00,884.00) rotate(-90)" text-anchor="middle" font-size="12.50"><tspan font-weight="bold">Metric Potential</tspan></text>
</svg>
</body></html>
